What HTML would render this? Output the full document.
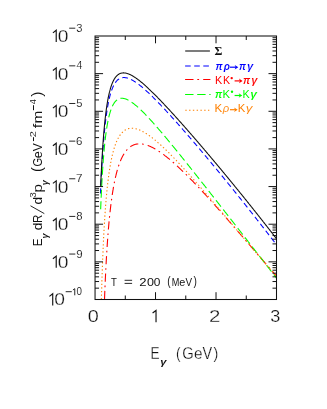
<!DOCTYPE html>
<html><head><meta charset="utf-8"><title>plot</title>
<style>
html,body{margin:0;padding:0;background:#fff;}
svg{display:block}
</style></head><body>
<svg width="327" height="409" viewBox="0 0 327 409" style="will-change:transform">
<rect width="327" height="409" fill="#fff"/>
<g fill="none" stroke-linecap="butt" stroke-linejoin="round" transform="scale(1.05,1)">
<path d="M95.66,193.59 L95.68,193.17 L95.70,192.75 L95.71,192.33 L95.73,191.91 L95.75,191.49 L95.77,191.07 L95.79,190.66 L95.81,190.24 L95.83,189.83 L95.85,189.41 L95.87,189.00 L95.89,188.59 L95.90,188.17 L95.92,187.76 L95.94,187.35 L95.96,186.95 L95.98,186.54 L96.00,186.13 L96.02,185.73 L96.04,185.32 L96.06,184.92 L96.08,184.52 L96.10,184.12 L96.11,183.72 L96.13,183.32 L96.15,182.92 L96.17,182.53 L96.19,182.13 L96.21,181.74 L96.23,181.35 L96.25,180.95 L96.27,180.56 L96.29,180.18 L96.30,179.79 L96.32,179.40 L96.34,179.02 L96.36,178.63 L96.38,178.25 L96.40,177.87 L96.42,177.49 L96.44,177.11 L96.46,176.73 L96.48,176.35 L96.50,175.98 L96.51,175.60 L96.53,175.23 L96.55,174.86 L96.57,174.49 L96.59,174.12 L96.61,173.75 L96.63,173.38 L96.65,173.02 L96.67,172.65 L96.69,172.29 L96.70,171.93 L96.72,171.57 L96.74,171.21 L96.76,170.85 L96.78,170.49 L96.80,170.14 L96.82,169.78 L96.84,169.43 L96.86,169.08 L96.88,168.73 L96.91,168.03 L96.95,167.34 L96.99,166.65 L97.03,165.97 L97.07,165.29 L97.10,164.62 L97.14,163.95 L97.18,163.29 L97.22,162.63 L97.26,161.98 L97.30,161.33 L97.33,160.69 L97.37,160.05 L97.41,159.42 L97.45,158.79 L97.49,158.17 L97.52,157.55 L97.56,156.94 L97.60,156.33 L97.64,155.72 L97.68,155.12 L97.71,154.53 L97.75,153.93 L97.79,153.35 L97.83,152.77 L97.87,152.19 L97.90,151.62 L97.94,151.05 L97.98,150.48 L98.02,149.92 L98.06,149.37 L98.10,148.82 L98.13,148.27 L98.17,147.73 L98.21,147.19 L98.25,146.66 L98.29,146.13 L98.32,145.60 L98.36,145.08 L98.40,144.56 L98.44,144.05 L98.48,143.54 L98.51,143.03 L98.55,142.53 L98.59,142.03 L98.63,141.54 L98.67,141.05 L98.70,140.56 L98.74,140.08 L98.78,139.60 L98.82,139.13 L98.86,138.65 L98.90,138.19 L98.93,137.72 L98.97,137.26 L99.01,136.81 L99.05,136.35 L99.09,135.90 L99.12,135.46 L99.16,135.01 L99.20,134.57 L99.24,134.14 L99.28,133.70 L99.31,133.27 L99.35,132.85 L99.39,132.43 L99.43,132.01 L99.47,131.59 L99.50,131.18 L99.54,130.77 L99.58,130.36 L99.62,129.96 L99.66,129.56 L99.70,129.16 L99.73,128.76 L99.77,128.37 L99.81,127.98 L99.85,127.60 L99.89,127.21 L99.92,126.83 L99.96,126.46 L100.00,126.08 L100.04,125.71 L100.08,125.34 L100.11,124.98 L100.15,124.62 L100.19,124.26 L100.23,123.90 L100.27,123.54 L100.30,123.19 L100.34,122.84 L100.40,122.32 L100.46,121.81 L100.51,121.30 L100.57,120.80 L100.63,120.31 L100.69,119.82 L100.74,119.33 L100.80,118.85 L100.86,118.38 L100.91,117.91 L100.97,117.44 L101.03,116.98 L101.09,116.53 L101.14,116.08 L101.20,115.64 L101.26,115.20 L101.31,114.77 L101.37,114.34 L101.43,113.91 L101.49,113.49 L101.54,113.08 L101.60,112.67 L101.66,112.26 L101.71,111.86 L101.77,111.46 L101.83,111.07 L101.89,110.68 L101.94,110.30 L102.00,109.92 L102.06,109.54 L102.11,109.17 L102.17,108.80 L102.23,108.44 L102.29,108.08 L102.34,107.72 L102.40,107.37 L102.46,107.02 L102.51,106.67 L102.59,106.22 L102.67,105.77 L102.74,105.33 L102.82,104.90 L102.90,104.47 L102.97,104.04 L103.05,103.63 L103.12,103.22 L103.20,102.81 L103.28,102.41 L103.35,102.02 L103.43,101.63 L103.50,101.25 L103.58,100.87 L103.66,100.50 L103.73,100.13 L103.81,99.77 L103.89,99.41 L103.96,99.06 L104.04,98.71 L104.11,98.37 L104.21,97.95 L104.30,97.54 L104.40,97.13 L104.50,96.73 L104.59,96.34 L104.69,95.95 L104.78,95.58 L104.88,95.20 L104.97,94.84 L105.07,94.48 L105.16,94.12 L105.26,93.78 L105.35,93.44 L105.47,93.03 L105.58,92.64 L105.70,92.26 L105.81,91.88 L105.92,91.51 L106.04,91.15 L106.15,90.79 L106.27,90.45 L106.38,90.11 L106.50,89.78 L106.63,89.40 L106.76,89.03 L106.90,88.67 L107.03,88.31 L107.16,87.97 L107.30,87.64 L107.43,87.31 L107.58,86.95 L107.73,86.59 L107.89,86.25 L108.04,85.92 L108.19,85.59 L108.34,85.28 L108.51,84.93 L108.69,84.60 L108.86,84.28 L109.03,83.97 L109.20,83.67 L109.39,83.35 L109.58,83.04 L109.77,82.74 L109.98,82.43 L110.19,82.12 L110.40,81.83 L110.61,81.56 L110.84,81.27 L111.07,81.00 L111.30,80.74 L111.54,80.47 L111.79,80.22 L112.04,79.98 L112.30,79.74 L112.57,79.51 L112.84,79.30 L113.12,79.09 L113.41,78.90 L113.71,78.71 L114.02,78.54 L114.32,78.38 L114.65,78.23 L114.97,78.10 L115.30,77.98 L115.62,77.88 L115.94,77.79 L116.29,77.71 L116.63,77.65 L116.97,77.61 L117.31,77.58 L117.66,77.56 L118.00,77.55 L118.34,77.56 L118.69,77.58 L119.03,77.61 L119.37,77.65 L119.71,77.70 L120.06,77.76 L120.40,77.84 L120.74,77.92 L121.07,78.01 L121.39,78.10 L121.71,78.20 L122.04,78.31 L122.36,78.43 L122.69,78.55 L123.01,78.68 L123.33,78.82 L123.66,78.97 L123.98,79.12 L124.29,79.26 L124.59,79.41 L124.90,79.57 L125.20,79.73 L125.50,79.90 L125.81,80.07 L126.11,80.24 L126.42,80.42 L126.72,80.61 L127.03,80.80 L127.33,80.99 L127.62,81.17 L127.90,81.36 L128.19,81.55 L128.48,81.74 L128.76,81.94 L129.05,82.14 L129.33,82.34 L129.62,82.54 L129.90,82.75 L130.19,82.96 L130.48,83.18 L130.76,83.39 L131.05,83.61 L131.33,83.83 L131.62,84.05 L131.89,84.27 L132.15,84.48 L132.42,84.69 L132.69,84.91 L132.95,85.13 L133.22,85.35 L133.49,85.57 L133.75,85.79 L134.02,86.02 L134.29,86.25 L134.55,86.48 L134.82,86.71 L135.09,86.94 L135.35,87.17 L135.62,87.41 L135.89,87.64 L136.15,87.88 L136.42,88.12 L136.69,88.36 L136.95,88.61 L137.22,88.85 L137.49,89.10 L137.75,89.34 L138.02,89.59 L138.29,89.84 L138.55,90.09 L138.82,90.34 L139.07,90.58 L139.31,90.81 L139.56,91.05 L139.81,91.29 L140.06,91.52 L140.30,91.76 L140.55,92.00 L140.80,92.25 L141.05,92.49 L141.30,92.73 L141.54,92.98 L141.79,93.22 L142.04,93.47 L142.29,93.71 L142.53,93.96 L142.78,94.21 L143.03,94.46 L143.28,94.71 L143.52,94.96 L143.77,95.21 L144.02,95.46 L144.27,95.72 L144.51,95.97 L144.76,96.22 L145.01,96.48 L145.26,96.73 L145.50,96.99 L145.75,97.25 L146.00,97.51 L146.25,97.76 L146.50,98.02 L146.74,98.28 L146.99,98.54 L147.24,98.80 L147.49,99.06 L147.73,99.33 L147.98,99.59 L148.23,99.85 L148.48,100.12 L148.72,100.38 L148.97,100.65 L149.22,100.91 L149.47,101.18 L149.71,101.44 L149.96,101.71 L150.21,101.98 L150.46,102.25 L150.70,102.51 L150.95,102.78 L151.20,103.05 L151.45,103.32 L151.70,103.59 L151.94,103.86 L152.19,104.14 L152.44,104.41 L152.69,104.68 L152.93,104.95 L153.18,105.23 L153.43,105.50 L153.68,105.77 L153.92,106.05 L154.17,106.32 L154.42,106.60 L154.67,106.87 L154.90,107.13 L155.12,107.38 L155.35,107.64 L155.58,107.90 L155.81,108.15 L156.04,108.41 L156.27,108.66 L156.50,108.92 L156.72,109.18 L156.95,109.44 L157.18,109.69 L157.41,109.95 L157.64,110.21 L157.87,110.47 L158.10,110.73 L158.32,110.99 L158.55,111.25 L158.78,111.51 L159.01,111.77 L159.24,112.03 L159.47,112.29 L159.70,112.55 L159.92,112.81 L160.15,113.08 L160.38,113.34 L160.61,113.60 L160.84,113.86 L161.07,114.13 L161.30,114.39 L161.52,114.65 L161.75,114.92 L161.98,115.18 L162.21,115.44 L162.44,115.71 L162.67,115.97 L162.90,116.24 L163.12,116.50 L163.35,116.77 L163.58,117.03 L163.81,117.30 L164.04,117.56 L164.27,117.83 L164.50,118.10 L164.72,118.36 L164.95,118.63 L165.18,118.90 L165.41,119.16 L165.64,119.43 L165.87,119.70 L166.10,119.97 L166.32,120.24 L166.55,120.50 L166.78,120.77 L167.01,121.04 L167.24,121.31 L167.47,121.58 L167.70,121.85 L167.92,122.12 L168.15,122.39 L168.38,122.66 L168.61,122.93 L168.84,123.20 L169.07,123.47 L169.30,123.74 L169.52,124.01 L169.75,124.28 L169.98,124.55 L170.21,124.82 L170.44,125.09 L170.67,125.37 L170.90,125.64 L171.12,125.91 L171.35,126.18 L171.58,126.46 L171.81,126.73 L172.04,127.00 L172.27,127.27 L172.50,127.55 L172.72,127.82 L172.95,128.09 L173.18,128.37 L173.41,128.64 L173.64,128.91 L173.87,129.19 L174.10,129.46 L174.32,129.74 L174.55,130.01 L174.78,130.29 L175.01,130.56 L175.24,130.84 L175.47,131.11 L175.70,131.39 L175.92,131.66 L176.15,131.94 L176.38,132.21 L176.61,132.49 L176.84,132.77 L177.07,133.04 L177.30,133.32 L177.52,133.59 L177.75,133.87 L177.98,134.15 L178.21,134.43 L178.44,134.70 L178.67,134.98 L178.90,135.26 L179.12,135.53 L179.35,135.81 L179.58,136.09 L179.81,136.37 L180.04,136.65 L180.27,136.92 L180.50,137.20 L180.72,137.48 L180.95,137.76 L181.18,138.04 L181.41,138.32 L181.64,138.60 L181.87,138.88 L182.10,139.15 L182.32,139.43 L182.55,139.71 L182.78,139.99 L183.01,140.27 L183.24,140.55 L183.47,140.83 L183.70,141.11 L183.92,141.39 L184.15,141.67 L184.38,141.95 L184.61,142.24 L184.84,142.52 L185.07,142.80 L185.30,143.08 L185.52,143.36 L185.75,143.64 L185.98,143.92 L186.21,144.20 L186.44,144.48 L186.67,144.77 L186.90,145.05 L187.12,145.33 L187.35,145.61 L187.58,145.89 L187.81,146.18 L188.04,146.46 L188.27,146.74 L188.50,147.03 L188.72,147.31 L188.95,147.59 L189.18,147.87 L189.41,148.16 L189.64,148.44 L189.87,148.72 L190.10,149.01 L190.32,149.29 L190.55,149.57 L190.78,149.86 L191.01,150.14 L191.24,150.43 L191.47,150.71 L191.70,150.99 L191.92,151.28 L192.15,151.56 L192.38,151.85 L192.61,152.13 L192.84,152.42 L193.07,152.70 L193.30,152.99 L193.52,153.27 L193.75,153.56 L193.98,153.84 L194.21,154.13 L194.44,154.41 L194.67,154.70 L194.90,154.99 L195.12,155.27 L195.35,155.56 L195.58,155.84 L195.81,156.13 L196.04,156.42 L196.27,156.70 L196.50,156.99 L196.72,157.28 L196.95,157.56 L197.18,157.85 L197.41,158.14 L197.64,158.42 L197.87,158.71 L198.10,159.00 L198.32,159.29 L198.55,159.57 L198.78,159.86 L199.01,160.15 L199.24,160.44 L199.47,160.72 L199.70,161.01 L199.92,161.30 L200.15,161.59 L200.38,161.88 L200.61,162.16 L200.84,162.45 L201.07,162.74 L201.30,163.03 L201.52,163.32 L201.75,163.61 L201.98,163.90 L202.21,164.19 L202.44,164.47 L202.67,164.76 L202.90,165.05 L203.12,165.34 L203.35,165.63 L203.58,165.92 L203.81,166.21 L204.04,166.50 L204.27,166.79 L204.50,167.08 L204.72,167.37 L204.95,167.66 L205.18,167.95 L205.41,168.24 L205.64,168.53 L205.87,168.82 L206.10,169.11 L206.32,169.40 L206.55,169.70 L206.78,169.99 L207.01,170.28 L207.24,170.57 L207.47,170.86 L207.70,171.15 L207.92,171.44 L208.15,171.73 L208.38,172.03 L208.61,172.32 L208.84,172.61 L209.07,172.90 L209.30,173.19 L209.52,173.48 L209.75,173.78 L209.98,174.07 L210.21,174.36 L210.44,174.65 L210.67,174.95 L210.90,175.24 L211.12,175.53 L211.35,175.82 L211.58,176.12 L211.81,176.41 L212.04,176.70 L212.27,177.00 L212.50,177.29 L212.72,177.58 L212.95,177.88 L213.18,178.17 L213.41,178.46 L213.64,178.76 L213.87,179.05 L214.10,179.35 L214.32,179.64 L214.55,179.93 L214.78,180.23 L215.01,180.52 L215.24,180.82 L215.47,181.11 L215.70,181.41 L215.92,181.70 L216.15,182.00 L216.38,182.29 L216.61,182.58 L216.84,182.88 L217.07,183.17 L217.30,183.47 L217.52,183.77 L217.75,184.06 L217.98,184.36 L218.21,184.65 L218.44,184.95 L218.67,185.24 L218.90,185.54 L219.12,185.83 L219.35,186.13 L219.58,186.43 L219.81,186.72 L220.04,187.02 L220.27,187.32 L220.50,187.61 L220.72,187.91 L220.95,188.21 L221.18,188.50 L221.41,188.80 L221.64,189.10 L221.85,189.37 L222.06,189.64 L222.27,189.91 L222.48,190.19 L222.69,190.46 L222.90,190.73 L223.10,191.00 L223.31,191.28 L223.52,191.55 L223.73,191.82 L223.94,192.09 L224.15,192.37 L224.36,192.64 L224.57,192.91 L224.78,193.19 L224.99,193.46 L225.20,193.73 L225.41,194.01 L225.62,194.28 L225.83,194.55 L226.04,194.83 L226.25,195.10 L226.46,195.38 L226.67,195.65 L226.88,195.92 L227.09,196.20 L227.30,196.47 L227.50,196.75 L227.71,197.02 L227.92,197.30 L228.13,197.57 L228.34,197.84 L228.55,198.12 L228.76,198.39 L228.97,198.67 L229.18,198.94 L229.39,199.22 L229.60,199.49 L229.81,199.77 L230.02,200.04 L230.23,200.32 L230.44,200.59 L230.65,200.87 L230.86,201.15 L231.07,201.42 L231.28,201.70 L231.49,201.97 L231.70,202.25 L231.90,202.52 L232.11,202.80 L232.32,203.08 L232.53,203.35 L232.74,203.63 L232.95,203.90 L233.16,204.18 L233.37,204.46 L233.58,204.73 L233.79,205.01 L234.00,205.29 L234.21,205.56 L234.42,205.84 L234.63,206.12 L234.84,206.39 L235.05,206.67 L235.26,206.95 L235.47,207.22 L235.68,207.50 L235.89,207.78 L236.10,208.06 L236.30,208.33 L236.51,208.61 L236.72,208.89 L236.93,209.17 L237.14,209.44 L237.35,209.72 L237.56,210.00 L237.77,210.28 L237.98,210.55 L238.19,210.83 L238.40,211.11 L238.61,211.39 L238.82,211.67 L239.03,211.95 L239.24,212.22 L239.45,212.50 L239.66,212.78 L239.87,213.06 L240.08,213.34 L240.29,213.62 L240.50,213.90 L240.70,214.17 L240.91,214.45 L241.12,214.73 L241.33,215.01 L241.54,215.29 L241.75,215.57 L241.96,215.85 L242.17,216.13 L242.38,216.41 L242.59,216.69 L242.80,216.97 L243.01,217.25 L243.22,217.53 L243.43,217.81 L243.64,218.09 L243.85,218.37 L244.06,218.65 L244.27,218.93 L244.48,219.21 L244.69,219.49 L244.90,219.77 L245.10,220.05 L245.31,220.33 L245.52,220.61 L245.73,220.89 L245.94,221.17 L246.15,221.45 L246.36,221.73 L246.57,222.02 L246.78,222.30 L246.99,222.58 L247.20,222.86 L247.41,223.14 L247.62,223.42 L247.83,223.70 L248.04,223.98 L248.25,224.27 L248.46,224.55 L248.67,224.83 L248.88,225.11 L249.09,225.39 L249.30,225.68 L249.50,225.96 L249.71,226.24 L249.92,226.52 L250.13,226.80 L250.34,227.09 L250.55,227.37 L250.76,227.65 L250.97,227.93 L251.18,228.22 L251.39,228.50 L251.60,228.78 L251.81,229.06 L252.02,229.35 L252.23,229.63 L252.44,229.91 L252.65,230.20 L252.86,230.48 L253.07,230.76 L253.28,231.05 L253.49,231.33 L253.70,231.61 L253.90,231.90 L254.11,232.18 L254.32,232.47 L254.53,232.75 L254.74,233.03 L254.95,233.32 L255.16,233.60 L255.37,233.89 L255.58,234.17 L255.79,234.45 L256.00,234.74 L256.21,235.02 L256.42,235.31 L256.63,235.59 L256.84,235.88 L257.05,236.16 L257.26,236.45 L257.47,236.73 L257.68,237.02 L257.89,237.30 L258.10,237.59 L258.30,237.87 L258.51,238.16 L258.72,238.44 L258.93,238.73 L259.14,239.01 L259.35,239.30 L259.56,239.58 L259.77,239.87 L259.98,240.16 L260.19,240.44 L260.40,240.73 L260.61,241.01 L260.82,241.30 L261.03,241.59 L261.24,241.87 L261.45,242.16 L261.66,242.45 L261.87,242.73 L262.08,243.02 L262.29,243.31 L262.50,243.59 L262.70,243.88 L262.91,244.17 L263.12,244.45 L263.33,244.74" stroke="#0000ff" stroke-width="1.05" stroke-dasharray="5.35 3.3"/>
<path d="M99.54,299.05 L99.56,298.51 L99.58,297.98 L99.60,297.46 L99.62,296.93 L99.64,296.41 L99.66,295.89 L99.68,295.38 L99.70,294.86 L99.71,294.35 L99.73,293.84 L99.75,293.33 L99.77,292.83 L99.79,292.33 L99.81,291.83 L99.83,291.33 L99.85,290.84 L99.87,290.34 L99.89,289.85 L99.90,289.37 L99.92,288.88 L99.94,288.40 L99.96,287.92 L99.98,287.44 L100.00,286.96 L100.02,286.49 L100.04,286.02 L100.06,285.55 L100.08,285.08 L100.10,284.61 L100.11,284.15 L100.13,283.69 L100.15,283.23 L100.17,282.77 L100.19,282.32 L100.21,281.87 L100.23,281.42 L100.25,280.97 L100.27,280.52 L100.29,280.08 L100.30,279.63 L100.32,279.19 L100.34,278.75 L100.36,278.32 L100.38,277.88 L100.40,277.45 L100.42,277.02 L100.44,276.59 L100.46,276.16 L100.48,275.74 L100.50,275.32 L100.51,274.89 L100.53,274.48 L100.55,274.06 L100.57,273.64 L100.59,273.23 L100.61,272.82 L100.63,272.41 L100.65,272.00 L100.67,271.59 L100.69,271.19 L100.70,270.78 L100.72,270.38 L100.74,269.98 L100.76,269.58 L100.78,269.19 L100.80,268.79 L100.82,268.40 L100.84,268.01 L100.86,267.62 L100.88,267.23 L100.90,266.85 L100.91,266.46 L100.93,266.08 L100.95,265.70 L100.97,265.32 L100.99,264.94 L101.01,264.56 L101.03,264.19 L101.05,263.81 L101.07,263.44 L101.09,263.07 L101.10,262.70 L101.12,262.34 L101.14,261.97 L101.16,261.61 L101.18,261.24 L101.20,260.88 L101.22,260.52 L101.24,260.16 L101.26,259.81 L101.28,259.45 L101.30,259.10 L101.31,258.75 L101.33,258.40 L101.35,258.05 L101.39,257.35 L101.43,256.66 L101.47,255.98 L101.50,255.30 L101.54,254.63 L101.58,253.96 L101.62,253.30 L101.66,252.64 L101.70,251.99 L101.73,251.34 L101.77,250.70 L101.81,250.07 L101.85,249.43 L101.89,248.81 L101.92,248.19 L101.96,247.57 L102.00,246.96 L102.04,246.35 L102.08,245.75 L102.11,245.15 L102.15,244.55 L102.19,243.96 L102.23,243.38 L102.27,242.80 L102.30,242.22 L102.34,241.65 L102.38,241.08 L102.42,240.52 L102.46,239.96 L102.50,239.40 L102.53,238.85 L102.57,238.31 L102.61,237.76 L102.65,237.22 L102.69,236.69 L102.72,236.16 L102.76,235.63 L102.80,235.11 L102.84,234.58 L102.88,234.07 L102.91,233.56 L102.95,233.05 L102.99,232.54 L103.03,232.04 L103.07,231.54 L103.10,231.05 L103.14,230.55 L103.18,230.07 L103.22,229.58 L103.26,229.10 L103.30,228.62 L103.33,228.15 L103.37,227.67 L103.41,227.21 L103.45,226.74 L103.49,226.28 L103.52,225.82 L103.56,225.36 L103.60,224.91 L103.64,224.46 L103.68,224.02 L103.71,223.57 L103.75,223.13 L103.79,222.69 L103.83,222.26 L103.87,221.83 L103.90,221.40 L103.94,220.97 L103.98,220.55 L104.02,220.13 L104.06,219.71 L104.10,219.29 L104.13,218.88 L104.17,218.47 L104.21,218.06 L104.25,217.66 L104.29,217.26 L104.32,216.86 L104.36,216.46 L104.40,216.07 L104.44,215.67 L104.48,215.28 L104.51,214.90 L104.55,214.51 L104.59,214.13 L104.63,213.75 L104.67,213.37 L104.70,213.00 L104.74,212.63 L104.78,212.26 L104.82,211.89 L104.86,211.52 L104.90,211.16 L104.93,210.80 L104.97,210.44 L105.01,210.08 L105.05,209.73 L105.09,209.38 L105.12,209.03 L105.16,208.68 L105.22,208.16 L105.28,207.65 L105.33,207.14 L105.39,206.63 L105.45,206.13 L105.50,205.64 L105.56,205.15 L105.62,204.66 L105.68,204.18 L105.73,203.70 L105.79,203.23 L105.85,202.76 L105.90,202.29 L105.96,201.83 L106.02,201.37 L106.08,200.92 L106.13,200.47 L106.19,200.02 L106.25,199.58 L106.30,199.14 L106.36,198.71 L106.42,198.28 L106.48,197.85 L106.53,197.43 L106.59,197.01 L106.65,196.59 L106.70,196.18 L106.76,195.77 L106.82,195.36 L106.88,194.96 L106.93,194.56 L106.99,194.16 L107.05,193.77 L107.10,193.38 L107.16,193.00 L107.22,192.61 L107.28,192.23 L107.33,191.86 L107.39,191.48 L107.45,191.11 L107.50,190.74 L107.56,190.38 L107.62,190.02 L107.68,189.66 L107.73,189.30 L107.79,188.95 L107.85,188.60 L107.90,188.25 L107.96,187.91 L108.04,187.45 L108.11,187.00 L108.19,186.55 L108.27,186.11 L108.34,185.67 L108.42,185.24 L108.50,184.81 L108.57,184.39 L108.65,183.97 L108.72,183.56 L108.80,183.15 L108.88,182.74 L108.95,182.34 L109.03,181.94 L109.10,181.54 L109.18,181.15 L109.26,180.77 L109.33,180.39 L109.41,180.01 L109.49,179.63 L109.56,179.26 L109.64,178.89 L109.71,178.53 L109.79,178.17 L109.87,177.81 L109.94,177.46 L110.02,177.11 L110.10,176.77 L110.17,176.42 L110.27,176.00 L110.36,175.58 L110.46,175.17 L110.55,174.76 L110.65,174.36 L110.74,173.96 L110.84,173.56 L110.93,173.17 L111.03,172.79 L111.12,172.41 L111.22,172.04 L111.31,171.66 L111.41,171.30 L111.50,170.94 L111.60,170.58 L111.70,170.22 L111.79,169.88 L111.89,169.53 L111.98,169.19 L112.08,168.85 L112.19,168.45 L112.30,168.06 L112.42,167.67 L112.53,167.29 L112.65,166.91 L112.76,166.54 L112.88,166.17 L112.99,165.81 L113.10,165.45 L113.22,165.10 L113.33,164.75 L113.45,164.41 L113.56,164.07 L113.68,163.74 L113.81,163.35 L113.94,162.98 L114.08,162.61 L114.21,162.24 L114.34,161.88 L114.48,161.53 L114.61,161.18 L114.74,160.84 L114.88,160.50 L115.01,160.17 L115.14,159.85 L115.28,159.53 L115.43,159.17 L115.58,158.81 L115.73,158.46 L115.89,158.12 L116.04,157.79 L116.19,157.46 L116.34,157.14 L116.50,156.82 L116.67,156.47 L116.84,156.13 L117.01,155.79 L117.18,155.46 L117.35,155.14 L117.52,154.83 L117.70,154.52 L117.87,154.22 L118.06,153.89 L118.25,153.57 L118.44,153.25 L118.63,152.95 L118.82,152.65 L119.01,152.36 L119.22,152.05 L119.43,151.74 L119.64,151.44 L119.85,151.16 L120.06,150.87 L120.27,150.60 L120.50,150.31 L120.72,150.03 L120.95,149.75 L121.18,149.49 L121.41,149.23 L121.66,148.96 L121.90,148.70 L122.15,148.45 L122.40,148.21 L122.65,147.97 L122.91,147.73 L123.18,147.49 L123.45,147.27 L123.71,147.05 L124.00,146.83 L124.29,146.62 L124.57,146.41 L124.86,146.22 L125.14,146.04 L125.45,145.85 L125.75,145.67 L126.06,145.50 L126.36,145.35 L126.67,145.20 L126.99,145.05 L127.31,144.91 L127.64,144.78 L127.96,144.66 L128.29,144.55 L128.61,144.44 L128.93,144.35 L129.26,144.27 L129.60,144.18 L129.94,144.11 L130.29,144.05 L130.63,143.99 L130.97,143.95 L131.31,143.91 L131.66,143.88 L132.00,143.86 L132.34,143.84 L132.69,143.84 L133.03,143.84 L133.37,143.84 L133.71,143.86 L134.06,143.88 L134.40,143.91 L134.74,143.94 L135.09,143.98 L135.43,144.03 L135.77,144.08 L136.11,144.14 L136.46,144.21 L136.80,144.28 L137.14,144.35 L137.49,144.43 L137.83,144.52 L138.15,144.61 L138.48,144.70 L138.80,144.80 L139.12,144.90 L139.45,145.00 L139.77,145.11 L140.10,145.23 L140.42,145.34 L140.74,145.47 L141.07,145.59 L141.39,145.72 L141.71,145.85 L142.04,145.99 L142.36,146.13 L142.69,146.28 L143.01,146.43 L143.31,146.57 L143.62,146.72 L143.92,146.86 L144.23,147.02 L144.53,147.17 L144.84,147.33 L145.14,147.49 L145.45,147.65 L145.75,147.82 L146.06,147.99 L146.36,148.16 L146.67,148.33 L146.97,148.51 L147.28,148.69 L147.58,148.87 L147.89,149.06 L148.19,149.24 L148.50,149.43 L148.80,149.62 L149.09,149.81 L149.37,149.99 L149.66,150.18 L149.94,150.36 L150.23,150.55 L150.51,150.74 L150.80,150.94 L151.09,151.13 L151.37,151.33 L151.66,151.53 L151.94,151.73 L152.23,151.93 L152.51,152.14 L152.80,152.34 L153.09,152.55 L153.37,152.76 L153.66,152.97 L153.94,153.18 L154.23,153.40 L154.51,153.61 L154.80,153.83 L155.09,154.05 L155.37,154.27 L155.66,154.49 L155.94,154.71 L156.23,154.94 L156.50,155.15 L156.76,155.36 L157.03,155.58 L157.30,155.79 L157.56,156.01 L157.83,156.22 L158.10,156.44 L158.36,156.66 L158.63,156.88 L158.90,157.11 L159.16,157.33 L159.43,157.55 L159.70,157.78 L159.96,158.01 L160.23,158.23 L160.50,158.46 L160.76,158.69 L161.03,158.92 L161.30,159.15 L161.56,159.39 L161.83,159.62 L162.10,159.85 L162.36,160.09 L162.63,160.33 L162.90,160.56 L163.16,160.80 L163.43,161.04 L163.70,161.28 L163.96,161.52 L164.23,161.77 L164.50,162.01 L164.76,162.25 L165.03,162.50 L165.30,162.75 L165.56,162.99 L165.83,163.24 L166.10,163.49 L166.36,163.74 L166.63,163.99 L166.90,164.24 L167.16,164.49 L167.41,164.73 L167.66,164.96 L167.90,165.20 L168.15,165.43 L168.40,165.67 L168.65,165.91 L168.90,166.15 L169.14,166.39 L169.39,166.63 L169.64,166.87 L169.89,167.11 L170.13,167.35 L170.38,167.59 L170.63,167.84 L170.88,168.08 L171.12,168.32 L171.37,168.57 L171.62,168.81 L171.87,169.06 L172.11,169.31 L172.36,169.55 L172.61,169.80 L172.86,170.05 L173.10,170.30 L173.35,170.55 L173.60,170.80 L173.85,171.05 L174.10,171.30 L174.34,171.55 L174.59,171.80 L174.84,172.05 L175.09,172.31 L175.33,172.56 L175.58,172.82 L175.83,173.07 L176.08,173.33 L176.32,173.58 L176.57,173.84 L176.82,174.09 L177.07,174.35 L177.31,174.61 L177.56,174.87 L177.81,175.12 L178.06,175.38 L178.30,175.64 L178.55,175.90 L178.80,176.16 L179.05,176.42 L179.30,176.69 L179.54,176.95 L179.79,177.21 L180.04,177.47 L180.29,177.73 L180.53,178.00 L180.78,178.26 L181.03,178.53 L181.28,178.79 L181.52,179.06 L181.77,179.32 L182.02,179.59 L182.27,179.85 L182.51,180.12 L182.76,180.39 L183.01,180.65 L183.26,180.92 L183.50,181.19 L183.75,181.46 L184.00,181.73 L184.25,182.00 L184.50,182.27 L184.74,182.54 L184.99,182.81 L185.24,183.08 L185.49,183.35 L185.73,183.62 L185.98,183.89 L186.23,184.16 L186.48,184.43 L186.72,184.71 L186.97,184.98 L187.22,185.25 L187.47,185.53 L187.71,185.80 L187.96,186.08 L188.21,186.35 L188.46,186.63 L188.70,186.90 L188.95,187.18 L189.20,187.45 L189.43,187.71 L189.66,187.96 L189.89,188.22 L190.11,188.47 L190.34,188.73 L190.57,188.99 L190.80,189.24 L191.03,189.50 L191.26,189.76 L191.49,190.01 L191.71,190.27 L191.94,190.53 L192.17,190.79 L192.40,191.05 L192.63,191.30 L192.86,191.56 L193.09,191.82 L193.31,192.08 L193.54,192.34 L193.77,192.60 L194.00,192.86 L194.23,193.12 L194.46,193.38 L194.69,193.64 L194.91,193.90 L195.14,194.16 L195.37,194.42 L195.60,194.68 L195.83,194.94 L196.06,195.21 L196.29,195.47 L196.51,195.73 L196.74,195.99 L196.97,196.25 L197.20,196.52 L197.43,196.78 L197.66,197.04 L197.89,197.31 L198.11,197.57 L198.34,197.83 L198.57,198.10 L198.80,198.36 L199.03,198.62 L199.26,198.89 L199.49,199.15 L199.71,199.42 L199.94,199.68 L200.17,199.95 L200.40,200.21 L200.63,200.48 L200.86,200.74 L201.09,201.01 L201.31,201.27 L201.54,201.54 L201.77,201.81 L202.00,202.07 L202.23,202.34 L202.46,202.61 L202.69,202.87 L202.91,203.14 L203.14,203.41 L203.37,203.67 L203.60,203.94 L203.83,204.21 L204.06,204.48 L204.29,204.74 L204.51,205.01 L204.74,205.28 L204.97,205.55 L205.20,205.82 L205.43,206.09 L205.66,206.35 L205.89,206.62 L206.11,206.89 L206.34,207.16 L206.57,207.43 L206.80,207.70 L207.03,207.97 L207.26,208.24 L207.49,208.51 L207.71,208.78 L207.94,209.05 L208.17,209.32 L208.40,209.59 L208.63,209.86 L208.86,210.13 L209.09,210.40 L209.31,210.67 L209.54,210.94 L209.77,211.21 L210.00,211.48 L210.23,211.76 L210.46,212.03 L210.69,212.30 L210.91,212.57 L211.14,212.84 L211.37,213.11 L211.60,213.38 L211.83,213.66 L212.06,213.93 L212.29,214.20 L212.51,214.47 L212.74,214.75 L212.97,215.02 L213.20,215.29 L213.43,215.56 L213.66,215.84 L213.89,216.11 L214.11,216.38 L214.34,216.66 L214.57,216.93 L214.80,217.20 L215.03,217.48 L215.26,217.75 L215.49,218.02 L215.71,218.30 L215.94,218.57 L216.17,218.84 L216.40,219.12 L216.63,219.39 L216.86,219.67 L217.09,219.94 L217.31,220.21 L217.54,220.49 L217.77,220.76 L218.00,221.04 L218.23,221.31 L218.46,221.59 L218.69,221.86 L218.91,222.14 L219.14,222.41 L219.37,222.69 L219.60,222.96 L219.83,223.24 L220.06,223.51 L220.29,223.79 L220.51,224.06 L220.74,224.34 L220.97,224.61 L221.20,224.89 L221.43,225.16 L221.66,225.44 L221.89,225.72 L222.11,225.99 L222.34,226.27 L222.57,226.54 L222.80,226.82 L223.03,227.09 L223.26,227.37 L223.49,227.65 L223.71,227.92 L223.94,228.20 L224.17,228.48 L224.40,228.75 L224.63,229.03 L224.86,229.31 L225.09,229.58 L225.31,229.86 L225.54,230.14 L225.77,230.41 L226.00,230.69 L226.23,230.97 L226.46,231.24 L226.69,231.52 L226.91,231.80 L227.14,232.07 L227.37,232.35 L227.60,232.63 L227.83,232.91 L228.06,233.18 L228.29,233.46 L228.51,233.74 L228.74,234.01 L228.97,234.29 L229.20,234.57 L229.43,234.85 L229.66,235.12 L229.89,235.40 L230.11,235.68 L230.34,235.96 L230.57,236.23 L230.80,236.51 L231.03,236.79 L231.26,237.07 L231.49,237.35 L231.71,237.62 L231.94,237.90 L232.17,238.18 L232.40,238.46 L232.63,238.74 L232.86,239.01 L233.09,239.29 L233.31,239.57 L233.54,239.85 L233.77,240.13 L234.00,240.40 L234.23,240.68 L234.46,240.96 L234.69,241.24 L234.91,241.52 L235.14,241.80 L235.37,242.07 L235.60,242.35 L235.83,242.63 L236.06,242.91 L236.29,243.19 L236.51,243.47 L236.74,243.74 L236.97,244.02 L237.20,244.30 L237.43,244.58 L237.66,244.86 L237.89,245.14 L238.11,245.42 L238.34,245.69 L238.57,245.97 L238.80,246.25 L239.03,246.53 L239.26,246.81 L239.49,247.09 L239.71,247.37 L239.94,247.65 L240.17,247.92 L240.40,248.20 L240.63,248.48 L240.86,248.76 L241.09,249.04 L241.31,249.32 L241.54,249.60 L241.77,249.88 L242.00,250.15 L242.23,250.43 L242.46,250.71 L242.69,250.99 L242.91,251.27 L243.14,251.55 L243.37,251.83 L243.60,252.11 L243.83,252.39 L244.06,252.66 L244.29,252.94 L244.51,253.22 L244.74,253.50 L244.97,253.78 L245.20,254.06 L245.43,254.34 L245.66,254.62 L245.89,254.90 L246.11,255.17 L246.34,255.45 L246.57,255.73 L246.80,256.01 L247.03,256.29 L247.26,256.57 L247.49,256.85 L247.71,257.13 L247.94,257.41 L248.17,257.69 L248.40,257.96 L248.63,258.24 L248.86,258.52 L249.09,258.80 L249.31,259.08 L249.54,259.36 L249.77,259.64 L250.00,259.92 L250.23,260.20 L250.46,260.47 L250.69,260.75 L250.91,261.03 L251.14,261.31 L251.37,261.59 L251.60,261.87 L251.83,262.15 L252.06,262.43 L252.29,262.70 L252.51,262.98 L252.74,263.26 L252.97,263.54 L253.20,263.82 L253.43,264.10 L253.66,264.38 L253.89,264.66 L254.11,264.93 L254.34,265.21 L254.57,265.49 L254.80,265.77 L255.03,266.05 L255.26,266.33 L255.49,266.61 L255.71,266.88 L255.94,267.16 L256.17,267.44 L256.40,267.72 L256.63,268.00 L256.86,268.28 L257.09,268.56 L257.31,268.83 L257.54,269.11 L257.77,269.39 L258.00,269.67 L258.23,269.95 L258.46,270.23 L258.69,270.50 L258.91,270.78 L259.14,271.06 L259.37,271.34 L259.60,271.62 L259.83,271.89 L260.06,272.17 L260.29,272.45 L260.51,272.73 L260.74,273.01 L260.97,273.29 L261.20,273.56 L261.43,273.84 L261.66,274.12 L261.89,274.40 L262.11,274.68 L262.34,274.95 L262.57,275.23 L262.80,275.51 L263.03,275.79 L263.26,276.06 L263.33,276.16" stroke="#ff0000" stroke-width="1.05" stroke-dasharray="8.2 3.7 1.6 3.9"/>
<path d="M95.87,209.31 L95.89,208.80 L95.90,208.29 L95.92,207.78 L95.94,207.28 L95.96,206.78 L95.98,206.28 L96.00,205.79 L96.02,205.29 L96.04,204.80 L96.06,204.32 L96.08,203.83 L96.10,203.35 L96.11,202.87 L96.13,202.39 L96.15,201.92 L96.17,201.44 L96.19,200.97 L96.21,200.50 L96.23,200.04 L96.25,199.58 L96.27,199.12 L96.29,198.66 L96.30,198.20 L96.32,197.75 L96.34,197.30 L96.36,196.85 L96.38,196.40 L96.40,195.96 L96.42,195.52 L96.44,195.08 L96.46,194.64 L96.48,194.20 L96.50,193.77 L96.51,193.34 L96.53,192.91 L96.55,192.49 L96.57,192.06 L96.59,191.64 L96.61,191.22 L96.63,190.80 L96.65,190.39 L96.67,189.97 L96.69,189.56 L96.70,189.15 L96.72,188.75 L96.74,188.34 L96.76,187.94 L96.78,187.54 L96.80,187.14 L96.82,186.74 L96.84,186.35 L96.86,185.95 L96.88,185.56 L96.90,185.17 L96.91,184.79 L96.93,184.40 L96.95,184.02 L96.97,183.64 L96.99,183.26 L97.01,182.88 L97.03,182.50 L97.05,182.13 L97.07,181.76 L97.09,181.39 L97.10,181.02 L97.12,180.65 L97.14,180.29 L97.16,179.93 L97.18,179.57 L97.20,179.21 L97.22,178.85 L97.24,178.50 L97.26,178.14 L97.28,177.79 L97.30,177.44 L97.33,176.74 L97.37,176.06 L97.41,175.37 L97.45,174.70 L97.49,174.03 L97.52,173.37 L97.56,172.71 L97.60,172.06 L97.64,171.42 L97.68,170.79 L97.71,170.15 L97.75,169.53 L97.79,168.91 L97.83,168.30 L97.87,167.69 L97.90,167.09 L97.94,166.50 L97.98,165.91 L98.02,165.32 L98.06,164.74 L98.10,164.17 L98.13,163.60 L98.17,163.04 L98.21,162.48 L98.25,161.93 L98.29,161.39 L98.32,160.84 L98.36,160.31 L98.40,159.78 L98.44,159.25 L98.48,158.73 L98.51,158.21 L98.55,157.70 L98.59,157.19 L98.63,156.69 L98.67,156.19 L98.70,155.70 L98.74,155.21 L98.78,154.72 L98.82,154.24 L98.86,153.76 L98.90,153.29 L98.93,152.82 L98.97,152.36 L99.01,151.90 L99.05,151.45 L99.09,151.00 L99.12,150.55 L99.16,150.10 L99.20,149.67 L99.24,149.23 L99.28,148.80 L99.31,148.37 L99.35,147.95 L99.39,147.53 L99.43,147.11 L99.47,146.70 L99.50,146.29 L99.54,145.88 L99.58,145.48 L99.62,145.08 L99.66,144.69 L99.70,144.29 L99.73,143.91 L99.77,143.52 L99.81,143.14 L99.85,142.76 L99.89,142.38 L99.92,142.01 L99.96,141.64 L100.00,141.28 L100.04,140.92 L100.08,140.56 L100.11,140.20 L100.15,139.85 L100.19,139.49 L100.25,138.97 L100.30,138.46 L100.36,137.95 L100.42,137.45 L100.48,136.96 L100.53,136.47 L100.59,135.99 L100.65,135.51 L100.70,135.04 L100.76,134.58 L100.82,134.12 L100.88,133.66 L100.93,133.22 L100.99,132.77 L101.05,132.34 L101.10,131.90 L101.16,131.48 L101.22,131.06 L101.28,130.64 L101.33,130.23 L101.39,129.82 L101.45,129.42 L101.50,129.03 L101.56,128.63 L101.62,128.25 L101.68,127.87 L101.73,127.49 L101.79,127.11 L101.85,126.75 L101.90,126.38 L101.96,126.02 L102.02,125.67 L102.08,125.31 L102.13,124.97 L102.21,124.51 L102.29,124.06 L102.36,123.62 L102.44,123.18 L102.51,122.75 L102.59,122.33 L102.67,121.91 L102.74,121.50 L102.82,121.10 L102.90,120.70 L102.97,120.31 L103.05,119.93 L103.12,119.55 L103.20,119.18 L103.28,118.81 L103.35,118.45 L103.43,118.09 L103.50,117.74 L103.58,117.40 L103.68,116.97 L103.77,116.56 L103.87,116.15 L103.96,115.75 L104.06,115.35 L104.15,114.97 L104.25,114.59 L104.34,114.22 L104.44,113.85 L104.53,113.50 L104.63,113.15 L104.72,112.80 L104.82,112.46 L104.93,112.07 L105.05,111.68 L105.16,111.30 L105.28,110.93 L105.39,110.57 L105.50,110.22 L105.62,109.87 L105.73,109.53 L105.85,109.20 L105.98,108.83 L106.11,108.46 L106.25,108.11 L106.38,107.76 L106.51,107.42 L106.65,107.10 L106.80,106.73 L106.95,106.38 L107.10,106.04 L107.26,105.71 L107.41,105.39 L107.58,105.04 L107.75,104.70 L107.92,104.38 L108.10,104.07 L108.27,103.76 L108.46,103.44 L108.65,103.13 L108.84,102.84 L109.05,102.53 L109.26,102.23 L109.47,101.95 L109.70,101.66 L109.92,101.38 L110.15,101.12 L110.40,100.85 L110.65,100.60 L110.90,100.37 L111.16,100.13 L111.43,99.91 L111.71,99.69 L112.00,99.50 L112.29,99.32 L112.59,99.14 L112.90,98.98 L113.22,98.84 L113.54,98.71 L113.87,98.60 L114.19,98.51 L114.53,98.43 L114.88,98.36 L115.22,98.32 L115.56,98.29 L115.90,98.28 L116.25,98.28 L116.59,98.29 L116.93,98.32 L117.28,98.36 L117.62,98.42 L117.96,98.49 L118.30,98.57 L118.63,98.65 L118.95,98.75 L119.28,98.85 L119.60,98.96 L119.92,99.08 L120.25,99.21 L120.57,99.35 L120.90,99.50 L121.20,99.64 L121.50,99.79 L121.81,99.95 L122.11,100.11 L122.42,100.28 L122.72,100.46 L123.03,100.64 L123.33,100.82 L123.64,101.02 L123.92,101.20 L124.21,101.39 L124.50,101.58 L124.78,101.78 L125.07,101.98 L125.35,102.18 L125.64,102.39 L125.92,102.60 L126.21,102.82 L126.50,103.03 L126.78,103.26 L127.05,103.47 L127.31,103.68 L127.58,103.90 L127.85,104.12 L128.11,104.34 L128.38,104.56 L128.65,104.79 L128.91,105.02 L129.18,105.25 L129.45,105.48 L129.71,105.72 L129.98,105.95 L130.25,106.19 L130.51,106.44 L130.78,106.68 L131.05,106.93 L131.31,107.18 L131.58,107.43 L131.85,107.68 L132.10,107.91 L132.34,108.15 L132.59,108.39 L132.84,108.63 L133.09,108.87 L133.33,109.12 L133.58,109.36 L133.83,109.61 L134.08,109.86 L134.32,110.10 L134.57,110.36 L134.82,110.61 L135.07,110.86 L135.31,111.11 L135.56,111.37 L135.81,111.63 L136.06,111.88 L136.30,112.14 L136.55,112.40 L136.80,112.66 L137.05,112.93 L137.30,113.19 L137.54,113.45 L137.79,113.72 L138.04,113.99 L138.29,114.25 L138.53,114.52 L138.78,114.79 L139.03,115.06 L139.28,115.33 L139.52,115.60 L139.77,115.88 L140.02,116.15 L140.27,116.43 L140.51,116.70 L140.74,116.96 L140.97,117.21 L141.20,117.47 L141.43,117.73 L141.66,117.98 L141.89,118.24 L142.11,118.50 L142.34,118.76 L142.57,119.02 L142.80,119.28 L143.03,119.54 L143.26,119.81 L143.49,120.07 L143.71,120.33 L143.94,120.60 L144.17,120.86 L144.40,121.13 L144.63,121.39 L144.86,121.66 L145.09,121.93 L145.31,122.19 L145.54,122.46 L145.77,122.73 L146.00,123.00 L146.23,123.27 L146.46,123.54 L146.69,123.81 L146.91,124.08 L147.14,124.35 L147.37,124.62 L147.60,124.89 L147.83,125.17 L148.06,125.44 L148.29,125.71 L148.51,125.99 L148.74,126.26 L148.97,126.53 L149.20,126.81 L149.43,127.08 L149.66,127.36 L149.89,127.64 L150.11,127.91 L150.34,128.19 L150.57,128.47 L150.80,128.75 L151.03,129.02 L151.26,129.30 L151.49,129.58 L151.71,129.86 L151.94,130.14 L152.17,130.42 L152.40,130.70 L152.63,130.98 L152.86,131.26 L153.09,131.54 L153.31,131.82 L153.54,132.10 L153.77,132.39 L154.00,132.67 L154.23,132.95 L154.46,133.23 L154.69,133.52 L154.91,133.80 L155.14,134.09 L155.37,134.37 L155.60,134.65 L155.83,134.94 L156.06,135.22 L156.29,135.51 L156.51,135.79 L156.74,136.08 L156.97,136.37 L157.20,136.65 L157.43,136.94 L157.66,137.22 L157.89,137.51 L158.11,137.80 L158.34,138.09 L158.57,138.37 L158.80,138.66 L159.03,138.95 L159.26,139.24 L159.49,139.53 L159.71,139.82 L159.94,140.10 L160.17,140.39 L160.40,140.68 L160.63,140.97 L160.86,141.26 L161.09,141.55 L161.31,141.84 L161.54,142.13 L161.77,142.42 L162.00,142.71 L162.23,143.01 L162.46,143.30 L162.69,143.59 L162.91,143.88 L163.14,144.17 L163.37,144.46 L163.60,144.76 L163.83,145.05 L164.06,145.34 L164.29,145.63 L164.51,145.93 L164.74,146.22 L164.97,146.51 L165.20,146.81 L165.43,147.10 L165.66,147.39 L165.89,147.69 L166.11,147.98 L166.34,148.27 L166.57,148.57 L166.80,148.86 L167.03,149.16 L167.26,149.45 L167.49,149.75 L167.71,150.04 L167.94,150.34 L168.17,150.63 L168.40,150.93 L168.63,151.22 L168.86,151.52 L169.09,151.81 L169.31,152.11 L169.54,152.41 L169.77,152.70 L170.00,153.00 L170.23,153.30 L170.46,153.59 L170.69,153.89 L170.91,154.19 L171.14,154.48 L171.35,154.75 L171.56,155.03 L171.77,155.30 L171.98,155.57 L172.19,155.84 L172.40,156.12 L172.61,156.39 L172.82,156.66 L173.03,156.94 L173.24,157.21 L173.45,157.48 L173.66,157.76 L173.87,158.03 L174.08,158.30 L174.29,158.58 L174.50,158.85 L174.70,159.12 L174.91,159.40 L175.12,159.67 L175.33,159.95 L175.54,160.22 L175.75,160.49 L175.96,160.77 L176.17,161.04 L176.38,161.32 L176.59,161.59 L176.80,161.87 L177.01,162.14 L177.22,162.42 L177.43,162.69 L177.64,162.97 L177.85,163.24 L178.06,163.52 L178.27,163.79 L178.48,164.07 L178.69,164.34 L178.90,164.62 L179.10,164.89 L179.31,165.17 L179.52,165.44 L179.73,165.72 L179.94,165.99 L180.15,166.27 L180.36,166.55 L180.57,166.82 L180.78,167.10 L180.99,167.37 L181.20,167.65 L181.41,167.93 L181.62,168.20 L181.83,168.48 L182.04,168.75 L182.25,169.03 L182.46,169.31 L182.67,169.58 L182.88,169.86 L183.09,170.14 L183.30,170.41 L183.50,170.69 L183.71,170.97 L183.92,171.24 L184.13,171.52 L184.34,171.80 L184.55,172.07 L184.76,172.35 L184.97,172.63 L185.18,172.91 L185.39,173.18 L185.60,173.46 L185.81,173.74 L186.02,174.02 L186.23,174.29 L186.44,174.57 L186.65,174.85 L186.86,175.13 L187.07,175.40 L187.28,175.68 L187.49,175.96 L187.70,176.24 L187.90,176.51 L188.11,176.79 L188.32,177.07 L188.53,177.35 L188.74,177.63 L188.95,177.90 L189.16,178.18 L189.37,178.46 L189.58,178.74 L189.79,179.02 L190.00,179.29 L190.21,179.57 L190.42,179.85 L190.63,180.13 L190.84,180.41 L191.05,180.69 L191.26,180.97 L191.47,181.24 L191.68,181.52 L191.89,181.80 L192.10,182.08 L192.30,182.36 L192.51,182.64 L192.72,182.92 L192.93,183.20 L193.14,183.47 L193.35,183.75 L193.56,184.03 L193.77,184.31 L193.98,184.59 L194.19,184.87 L194.40,185.15 L194.61,185.43 L194.82,185.71 L195.03,185.99 L195.24,186.27 L195.45,186.54 L195.66,186.82 L195.87,187.10 L196.08,187.38 L196.29,187.66 L196.50,187.94 L196.70,188.22 L196.91,188.50 L197.12,188.78 L197.33,189.06 L197.54,189.34 L197.75,189.62 L197.96,189.90 L198.17,190.18 L198.38,190.46 L198.59,190.74 L198.80,191.02 L199.01,191.30 L199.22,191.58 L199.43,191.86 L199.64,192.14 L199.85,192.42 L200.06,192.70 L200.27,192.98 L200.48,193.26 L200.69,193.54 L200.90,193.82 L201.10,194.10 L201.31,194.38 L201.52,194.66 L201.73,194.94 L201.94,195.22 L202.15,195.50 L202.36,195.78 L202.57,196.06 L202.78,196.34 L202.99,196.62 L203.20,196.90 L203.41,197.18 L203.62,197.46 L203.83,197.74 L204.04,198.02 L204.25,198.30 L204.46,198.59 L204.67,198.87 L204.88,199.15 L205.09,199.43 L205.30,199.71 L205.50,199.99 L205.71,200.27 L205.92,200.55 L206.13,200.83 L206.34,201.11 L206.55,201.39 L206.76,201.67 L206.97,201.95 L207.18,202.24 L207.39,202.52 L207.60,202.80 L207.81,203.08 L208.02,203.36 L208.23,203.64 L208.44,203.92 L208.65,204.20 L208.86,204.48 L209.07,204.77 L209.28,205.05 L209.49,205.33 L209.70,205.61 L209.90,205.89 L210.11,206.17 L210.32,206.45 L210.53,206.73 L210.74,207.02 L210.95,207.30 L211.16,207.58 L211.37,207.86 L211.58,208.14 L211.79,208.42 L212.00,208.70 L212.21,208.99 L212.42,209.27 L212.63,209.55 L212.84,209.83 L213.05,210.11 L213.26,210.39 L213.47,210.68 L213.68,210.96 L213.89,211.24 L214.10,211.52 L214.30,211.80 L214.51,212.08 L214.72,212.37 L214.93,212.65 L215.14,212.93 L215.35,213.21 L215.56,213.49 L215.77,213.77 L215.98,214.06 L216.19,214.34 L216.40,214.62 L216.61,214.90 L216.82,215.18 L217.03,215.47 L217.24,215.75 L217.45,216.03 L217.66,216.31 L217.87,216.59 L218.08,216.88 L218.29,217.16 L218.50,217.44 L218.70,217.72 L218.91,218.00 L219.12,218.29 L219.33,218.57 L219.54,218.85 L219.75,219.13 L219.96,219.42 L220.17,219.70 L220.38,219.98 L220.59,220.26 L220.80,220.54 L221.01,220.83 L221.22,221.11 L221.43,221.39 L221.64,221.67 L221.85,221.96 L222.06,222.24 L222.27,222.52 L222.48,222.80 L222.69,223.09 L222.90,223.37 L223.10,223.65 L223.31,223.93 L223.52,224.22 L223.73,224.50 L223.94,224.78 L224.15,225.06 L224.36,225.35 L224.57,225.63 L224.78,225.91 L224.99,226.19 L225.20,226.48 L225.41,226.76 L225.62,227.04 L225.83,227.32 L226.04,227.61 L226.25,227.89 L226.46,228.17 L226.67,228.45 L226.88,228.74 L227.09,229.02 L227.30,229.30 L227.50,229.59 L227.71,229.87 L227.92,230.15 L228.13,230.43 L228.34,230.72 L228.55,231.00 L228.76,231.28 L228.97,231.57 L229.18,231.85 L229.39,232.13 L229.60,232.41 L229.81,232.70 L230.02,232.98 L230.23,233.26 L230.44,233.55 L230.65,233.83 L230.86,234.11 L231.07,234.40 L231.28,234.68 L231.49,234.96 L231.70,235.24 L231.90,235.53 L232.11,235.81 L232.32,236.09 L232.53,236.38 L232.74,236.66 L232.95,236.94 L233.16,237.23 L233.37,237.51 L233.58,237.79 L233.79,238.08 L234.00,238.36 L234.21,238.64 L234.42,238.93 L234.63,239.21 L234.84,239.49 L235.05,239.78 L235.26,240.06 L235.47,240.34 L235.68,240.63 L235.89,240.91 L236.10,241.19 L236.30,241.48 L236.51,241.76 L236.72,242.04 L236.93,242.33 L237.14,242.61 L237.35,242.89 L237.56,243.18 L237.77,243.46 L237.98,243.74 L238.19,244.03 L238.40,244.31 L238.61,244.59 L238.82,244.88 L239.03,245.16 L239.24,245.44 L239.45,245.73 L239.66,246.01 L239.87,246.30 L240.08,246.58 L240.29,246.86 L240.50,247.15 L240.70,247.43 L240.91,247.71 L241.12,248.00 L241.33,248.28 L241.54,248.56 L241.75,248.85 L241.96,249.13 L242.17,249.42 L242.38,249.70 L242.59,249.98 L242.80,250.27 L243.01,250.55 L243.22,250.83 L243.43,251.12 L243.64,251.40 L243.85,251.69 L244.06,251.97 L244.27,252.25 L244.48,252.54 L244.69,252.82 L244.90,253.11 L245.10,253.39 L245.31,253.67 L245.52,253.96 L245.73,254.24 L245.94,254.52 L246.15,254.81 L246.36,255.09 L246.57,255.38 L246.78,255.66 L246.99,255.94 L247.20,256.23 L247.41,256.51 L247.62,256.80 L247.83,257.08 L248.04,257.36 L248.25,257.65 L248.46,257.93 L248.67,258.22 L248.88,258.50 L249.09,258.79 L249.30,259.07 L249.50,259.35 L249.71,259.64 L249.92,259.92 L250.13,260.21 L250.34,260.49 L250.55,260.77 L250.76,261.06 L250.97,261.34 L251.18,261.63 L251.39,261.91 L251.60,262.20 L251.81,262.48 L252.02,262.76 L252.23,263.05 L252.44,263.33 L252.65,263.62 L252.86,263.90 L253.07,264.19 L253.28,264.47 L253.49,264.76 L253.70,265.04 L253.90,265.32 L254.11,265.61 L254.32,265.89 L254.53,266.18 L254.74,266.46 L254.95,266.75 L255.16,267.03 L255.37,267.31 L255.58,267.60 L255.79,267.88 L256.00,268.17 L256.21,268.45 L256.42,268.74 L256.63,269.02 L256.84,269.31 L257.05,269.59 L257.26,269.88 L257.47,270.16 L257.68,270.45 L257.89,270.73 L258.10,271.01 L258.30,271.30 L258.51,271.58 L258.72,271.87 L258.93,272.15 L259.14,272.44 L259.35,272.72 L259.56,273.01 L259.77,273.29 L259.98,273.58 L260.19,273.86 L260.40,274.15 L260.61,274.43 L260.82,274.72 L261.03,275.00 L261.24,275.29 L261.45,275.57 L261.66,275.85 L261.87,276.14 L262.08,276.42 L262.29,276.71 L262.50,276.99 L262.70,277.28 L262.91,277.56 L263.12,277.85 L263.33,278.13" stroke="#00ff00" stroke-width="1.05" stroke-dasharray="8.0 3.55"/>
<path d="M96.55,299.42 L96.57,298.67 L96.59,297.92 L96.61,297.18 L96.63,296.45 L96.65,295.72 L96.67,295.00 L96.69,294.28 L96.70,293.56 L96.72,292.85 L96.74,292.14 L96.76,291.44 L96.78,290.75 L96.80,290.05 L96.82,289.36 L96.84,288.68 L96.86,288.00 L96.88,287.32 L96.90,286.65 L96.91,285.98 L96.93,285.32 L96.95,284.66 L96.97,284.00 L96.99,283.35 L97.01,282.70 L97.03,282.06 L97.05,281.42 L97.07,280.79 L97.09,280.15 L97.10,279.52 L97.12,278.90 L97.14,278.28 L97.16,277.66 L97.18,277.05 L97.20,276.44 L97.22,275.83 L97.24,275.23 L97.26,274.63 L97.28,274.03 L97.30,273.44 L97.31,272.85 L97.33,272.27 L97.35,271.68 L97.37,271.11 L97.39,270.53 L97.41,269.96 L97.43,269.39 L97.45,268.82 L97.47,268.26 L97.49,267.70 L97.50,267.14 L97.52,266.59 L97.54,266.04 L97.56,265.49 L97.58,264.95 L97.60,264.41 L97.62,263.87 L97.64,263.34 L97.66,262.81 L97.68,262.28 L97.70,261.75 L97.71,261.23 L97.73,260.71 L97.75,260.19 L97.77,259.68 L97.79,259.16 L97.81,258.65 L97.83,258.15 L97.85,257.64 L97.87,257.14 L97.89,256.65 L97.90,256.15 L97.92,255.66 L97.94,255.17 L97.96,254.68 L97.98,254.19 L98.00,253.71 L98.02,253.23 L98.04,252.75 L98.06,252.28 L98.08,251.81 L98.10,251.34 L98.11,250.87 L98.13,250.40 L98.15,249.94 L98.17,249.48 L98.19,249.02 L98.21,248.57 L98.23,248.11 L98.25,247.66 L98.27,247.21 L98.29,246.77 L98.30,246.32 L98.32,245.88 L98.34,245.44 L98.36,245.00 L98.38,244.57 L98.40,244.14 L98.42,243.70 L98.44,243.28 L98.46,242.85 L98.48,242.43 L98.50,242.00 L98.51,241.58 L98.53,241.16 L98.55,240.75 L98.57,240.33 L98.59,239.92 L98.61,239.51 L98.63,239.10 L98.65,238.70 L98.67,238.29 L98.69,237.89 L98.70,237.49 L98.72,237.09 L98.74,236.70 L98.76,236.30 L98.78,235.91 L98.80,235.52 L98.82,235.13 L98.84,234.75 L98.86,234.36 L98.88,233.98 L98.90,233.60 L98.91,233.22 L98.93,232.84 L98.95,232.46 L98.97,232.09 L98.99,231.72 L99.01,231.35 L99.03,230.98 L99.05,230.61 L99.07,230.24 L99.09,229.88 L99.10,229.52 L99.12,229.16 L99.14,228.80 L99.16,228.44 L99.18,228.09 L99.20,227.73 L99.22,227.38 L99.24,227.03 L99.28,226.33 L99.31,225.64 L99.35,224.96 L99.39,224.28 L99.43,223.61 L99.47,222.94 L99.50,222.28 L99.54,221.63 L99.58,220.98 L99.62,220.34 L99.66,219.70 L99.70,219.07 L99.73,218.45 L99.77,217.83 L99.81,217.21 L99.85,216.60 L99.89,216.00 L99.92,215.40 L99.96,214.80 L100.00,214.22 L100.04,213.63 L100.08,213.05 L100.11,212.48 L100.15,211.91 L100.19,211.34 L100.23,210.78 L100.27,210.23 L100.30,209.68 L100.34,209.13 L100.38,208.59 L100.42,208.05 L100.46,207.52 L100.50,206.99 L100.53,206.47 L100.57,205.95 L100.61,205.43 L100.65,204.92 L100.69,204.41 L100.72,203.91 L100.76,203.41 L100.80,202.91 L100.84,202.42 L100.88,201.93 L100.91,201.45 L100.95,200.97 L100.99,200.49 L101.03,200.02 L101.07,199.55 L101.10,199.08 L101.14,198.62 L101.18,198.16 L101.22,197.71 L101.26,197.26 L101.30,196.81 L101.33,196.36 L101.37,195.92 L101.41,195.48 L101.45,195.05 L101.49,194.62 L101.52,194.19 L101.56,193.76 L101.60,193.34 L101.64,192.92 L101.68,192.51 L101.71,192.10 L101.75,191.69 L101.79,191.28 L101.83,190.88 L101.87,190.48 L101.90,190.08 L101.94,189.68 L101.98,189.29 L102.02,188.90 L102.06,188.52 L102.10,188.13 L102.13,187.75 L102.17,187.37 L102.21,187.00 L102.25,186.63 L102.29,186.26 L102.32,185.89 L102.36,185.52 L102.40,185.16 L102.44,184.80 L102.48,184.44 L102.51,184.09 L102.55,183.74 L102.59,183.39 L102.65,182.87 L102.70,182.35 L102.76,181.84 L102.82,181.34 L102.88,180.84 L102.93,180.35 L102.99,179.86 L103.05,179.37 L103.10,178.89 L103.16,178.42 L103.22,177.95 L103.28,177.49 L103.33,177.03 L103.39,176.57 L103.45,176.12 L103.50,175.67 L103.56,175.23 L103.62,174.79 L103.68,174.36 L103.73,173.93 L103.79,173.51 L103.85,173.08 L103.90,172.67 L103.96,172.25 L104.02,171.85 L104.08,171.44 L104.13,171.04 L104.19,170.64 L104.25,170.25 L104.30,169.86 L104.36,169.47 L104.42,169.09 L104.48,168.71 L104.53,168.34 L104.59,167.97 L104.65,167.60 L104.70,167.23 L104.76,166.87 L104.82,166.51 L104.88,166.16 L104.93,165.81 L104.99,165.46 L105.05,165.11 L105.12,164.66 L105.20,164.21 L105.28,163.76 L105.35,163.33 L105.43,162.89 L105.50,162.46 L105.58,162.04 L105.66,161.62 L105.73,161.21 L105.81,160.80 L105.89,160.40 L105.96,160.00 L106.04,159.61 L106.11,159.22 L106.19,158.83 L106.27,158.45 L106.34,158.08 L106.42,157.71 L106.50,157.34 L106.57,156.98 L106.65,156.62 L106.72,156.26 L106.80,155.91 L106.88,155.57 L106.95,155.22 L107.05,154.80 L107.14,154.39 L107.24,153.98 L107.33,153.57 L107.43,153.17 L107.52,152.78 L107.62,152.39 L107.71,152.01 L107.81,151.63 L107.90,151.26 L108.00,150.90 L108.10,150.53 L108.19,150.18 L108.29,149.83 L108.38,149.48 L108.48,149.14 L108.57,148.80 L108.69,148.40 L108.80,148.01 L108.91,147.63 L109.03,147.25 L109.14,146.88 L109.26,146.51 L109.37,146.15 L109.49,145.80 L109.60,145.45 L109.71,145.11 L109.83,144.77 L109.94,144.44 L110.08,144.06 L110.21,143.69 L110.34,143.32 L110.48,142.96 L110.61,142.61 L110.74,142.27 L110.88,141.93 L111.01,141.60 L111.14,141.27 L111.30,140.91 L111.45,140.55 L111.60,140.20 L111.75,139.86 L111.90,139.53 L112.06,139.20 L112.21,138.88 L112.36,138.57 L112.53,138.23 L112.70,137.89 L112.88,137.56 L113.05,137.25 L113.22,136.94 L113.39,136.63 L113.58,136.31 L113.77,135.99 L113.96,135.68 L114.15,135.38 L114.34,135.09 L114.55,134.78 L114.76,134.48 L114.97,134.19 L115.18,133.91 L115.39,133.63 L115.62,133.35 L115.85,133.07 L116.08,132.80 L116.30,132.55 L116.55,132.28 L116.80,132.02 L117.05,131.78 L117.30,131.54 L117.56,131.30 L117.83,131.07 L118.10,130.85 L118.38,130.63 L118.67,130.42 L118.95,130.22 L119.24,130.03 L119.54,129.84 L119.85,129.66 L120.15,129.50 L120.46,129.35 L120.76,129.20 L121.09,129.06 L121.41,128.94 L121.73,128.82 L122.06,128.72 L122.38,128.62 L122.72,128.54 L123.07,128.46 L123.41,128.40 L123.75,128.34 L124.10,128.30 L124.44,128.27 L124.78,128.24 L125.12,128.23 L125.47,128.22 L125.81,128.23 L126.15,128.24 L126.50,128.26 L126.84,128.29 L127.18,128.33 L127.52,128.38 L127.87,128.43 L128.21,128.50 L128.55,128.56 L128.90,128.64 L129.24,128.72 L129.56,128.81 L129.89,128.90 L130.21,129.00 L130.53,129.10 L130.86,129.21 L131.18,129.32 L131.50,129.44 L131.83,129.56 L132.15,129.69 L132.48,129.82 L132.80,129.96 L133.12,130.10 L133.45,130.25 L133.75,130.39 L134.06,130.54 L134.36,130.69 L134.67,130.84 L134.97,131.00 L135.28,131.16 L135.58,131.33 L135.89,131.50 L136.19,131.67 L136.50,131.84 L136.80,132.02 L137.10,132.20 L137.41,132.39 L137.71,132.58 L138.02,132.77 L138.30,132.95 L138.59,133.13 L138.88,133.32 L139.16,133.51 L139.45,133.70 L139.73,133.90 L140.02,134.09 L140.30,134.29 L140.59,134.49 L140.88,134.70 L141.16,134.90 L141.45,135.11 L141.73,135.32 L142.02,135.53 L142.30,135.75 L142.59,135.96 L142.88,136.18 L143.16,136.40 L143.45,136.62 L143.73,136.85 L144.00,137.06 L144.27,137.27 L144.53,137.48 L144.80,137.70 L145.07,137.92 L145.33,138.14 L145.60,138.36 L145.87,138.58 L146.13,138.80 L146.40,139.02 L146.67,139.25 L146.93,139.48 L147.20,139.71 L147.47,139.94 L147.73,140.17 L148.00,140.40 L148.27,140.63 L148.53,140.87 L148.80,141.11 L149.07,141.34 L149.33,141.58 L149.60,141.82 L149.87,142.06 L150.13,142.31 L150.40,142.55 L150.67,142.79 L150.93,143.04 L151.20,143.29 L151.47,143.54 L151.73,143.79 L152.00,144.04 L152.27,144.29 L152.51,144.52 L152.76,144.76 L153.01,144.99 L153.26,145.23 L153.50,145.47 L153.75,145.71 L154.00,145.95 L154.25,146.19 L154.50,146.43 L154.74,146.67 L154.99,146.91 L155.24,147.16 L155.49,147.40 L155.73,147.65 L155.98,147.89 L156.23,148.14 L156.48,148.39 L156.72,148.63 L156.97,148.88 L157.22,149.13 L157.47,149.38 L157.71,149.63 L157.96,149.88 L158.21,150.14 L158.46,150.39 L158.70,150.64 L158.95,150.90 L159.20,151.15 L159.45,151.41 L159.70,151.67 L159.94,151.92 L160.19,152.18 L160.44,152.44 L160.69,152.70 L160.93,152.96 L161.18,153.22 L161.43,153.48 L161.68,153.74 L161.92,154.00 L162.17,154.26 L162.42,154.52 L162.67,154.79 L162.91,155.05 L163.16,155.32 L163.41,155.58 L163.66,155.85 L163.90,156.11 L164.15,156.38 L164.40,156.65 L164.65,156.91 L164.90,157.18 L165.14,157.45 L165.39,157.72 L165.64,157.99 L165.89,158.26 L166.13,158.53 L166.38,158.80 L166.63,159.07 L166.88,159.34 L167.12,159.62 L167.37,159.89 L167.62,160.16 L167.87,160.44 L168.11,160.71 L168.36,160.99 L168.61,161.26 L168.86,161.54 L169.10,161.81 L169.33,162.07 L169.56,162.32 L169.79,162.58 L170.02,162.83 L170.25,163.09 L170.48,163.35 L170.70,163.60 L170.93,163.86 L171.16,164.12 L171.39,164.38 L171.62,164.64 L171.85,164.89 L172.08,165.15 L172.30,165.41 L172.53,165.67 L172.76,165.93 L172.99,166.19 L173.22,166.45 L173.45,166.71 L173.68,166.97 L173.90,167.24 L174.13,167.50 L174.36,167.76 L174.59,168.02 L174.82,168.28 L175.05,168.55 L175.28,168.81 L175.50,169.07 L175.73,169.34 L175.96,169.60 L176.19,169.86 L176.42,170.13 L176.65,170.39 L176.88,170.66 L177.10,170.92 L177.33,171.19 L177.56,171.45 L177.79,171.72 L178.02,171.99 L178.25,172.25 L178.48,172.52 L178.70,172.78 L178.93,173.05 L179.16,173.32 L179.39,173.59 L179.62,173.85 L179.85,174.12 L180.08,174.39 L180.30,174.66 L180.53,174.93 L180.76,175.19 L180.99,175.46 L181.22,175.73 L181.45,176.00 L181.68,176.27 L181.90,176.54 L182.13,176.81 L182.36,177.08 L182.59,177.35 L182.82,177.62 L183.05,177.89 L183.28,178.16 L183.50,178.43 L183.73,178.70 L183.96,178.98 L184.19,179.25 L184.42,179.52 L184.65,179.79 L184.88,180.06 L185.10,180.34 L185.33,180.61 L185.56,180.88 L185.79,181.15 L186.02,181.43 L186.25,181.70 L186.48,181.97 L186.70,182.25 L186.93,182.52 L187.16,182.79 L187.39,183.07 L187.62,183.34 L187.85,183.62 L188.08,183.89 L188.30,184.16 L188.53,184.44 L188.76,184.71 L188.99,184.99 L189.22,185.26 L189.45,185.54 L189.68,185.81 L189.90,186.09 L190.13,186.37 L190.36,186.64 L190.59,186.92 L190.82,187.19 L191.05,187.47 L191.28,187.74 L191.50,188.02 L191.73,188.30 L191.96,188.57 L192.19,188.85 L192.42,189.13 L192.65,189.40 L192.88,189.68 L193.10,189.96 L193.33,190.24 L193.56,190.51 L193.79,190.79 L194.02,191.07 L194.25,191.35 L194.48,191.62 L194.70,191.90 L194.93,192.18 L195.16,192.46 L195.39,192.74 L195.62,193.02 L195.85,193.29 L196.08,193.57 L196.30,193.85 L196.53,194.13 L196.76,194.41 L196.99,194.69 L197.22,194.97 L197.45,195.25 L197.68,195.53 L197.90,195.81 L198.13,196.08 L198.36,196.36 L198.59,196.64 L198.82,196.92 L199.05,197.20 L199.28,197.48 L199.50,197.76 L199.73,198.04 L199.96,198.32 L200.19,198.60 L200.42,198.88 L200.65,199.16 L200.88,199.44 L201.10,199.72 L201.33,200.01 L201.56,200.29 L201.79,200.57 L202.02,200.85 L202.25,201.13 L202.48,201.41 L202.70,201.69 L202.93,201.97 L203.16,202.25 L203.39,202.53 L203.62,202.81 L203.85,203.10 L204.08,203.38 L204.30,203.66 L204.53,203.94 L204.76,204.22 L204.99,204.50 L205.22,204.79 L205.45,205.07 L205.68,205.35 L205.90,205.63 L206.13,205.91 L206.36,206.19 L206.59,206.48 L206.82,206.76 L207.05,207.04 L207.28,207.32 L207.50,207.60 L207.73,207.89 L207.96,208.17 L208.19,208.45 L208.42,208.73 L208.65,209.02 L208.88,209.30 L209.10,209.58 L209.33,209.86 L209.56,210.15 L209.79,210.43 L210.02,210.71 L210.25,210.99 L210.48,211.28 L210.70,211.56 L210.93,211.84 L211.16,212.13 L211.39,212.41 L211.62,212.69 L211.85,212.97 L212.08,213.26 L212.30,213.54 L212.53,213.82 L212.76,214.11 L212.99,214.39 L213.22,214.67 L213.45,214.96 L213.68,215.24 L213.90,215.52 L214.13,215.80 L214.36,216.09 L214.59,216.37 L214.82,216.65 L215.05,216.94 L215.28,217.22 L215.50,217.50 L215.73,217.79 L215.96,218.07 L216.19,218.35 L216.42,218.64 L216.65,218.92 L216.88,219.20 L217.10,219.49 L217.33,219.77 L217.56,220.06 L217.79,220.34 L218.02,220.62 L218.25,220.91 L218.48,221.19 L218.70,221.47 L218.93,221.76 L219.16,222.04 L219.39,222.32 L219.62,222.61 L219.85,222.89 L220.08,223.17 L220.30,223.46 L220.53,223.74 L220.76,224.03 L220.99,224.31 L221.22,224.59 L221.45,224.88 L221.68,225.16 L221.90,225.44 L222.13,225.73 L222.36,226.01 L222.59,226.30 L222.82,226.58 L223.05,226.86 L223.28,227.15 L223.50,227.43 L223.73,227.71 L223.96,228.00 L224.19,228.28 L224.42,228.56 L224.65,228.85 L224.88,229.13 L225.10,229.42 L225.33,229.70 L225.56,229.98 L225.79,230.27 L226.02,230.55 L226.25,230.83 L226.48,231.12 L226.70,231.40 L226.93,231.69 L227.16,231.97 L227.39,232.25 L227.62,232.54 L227.85,232.82 L228.08,233.10 L228.30,233.39 L228.53,233.67 L228.76,233.95 L228.99,234.24 L229.22,234.52 L229.45,234.80 L229.68,235.09 L229.90,235.37 L230.13,235.66 L230.36,235.94 L230.59,236.22 L230.82,236.51 L231.05,236.79 L231.28,237.07 L231.50,237.36 L231.73,237.64 L231.96,237.92 L232.19,238.21 L232.42,238.49 L232.65,238.77 L232.88,239.06 L233.10,239.34 L233.33,239.62 L233.56,239.91 L233.79,240.19 L234.02,240.47 L234.25,240.75 L234.48,241.04 L234.70,241.32 L234.93,241.60 L235.16,241.89 L235.39,242.17 L235.62,242.45 L235.85,242.74 L236.08,243.02 L236.30,243.30 L236.53,243.58 L236.76,243.87 L236.99,244.15 L237.22,244.43 L237.45,244.72 L237.68,245.00 L237.90,245.28 L238.13,245.56 L238.36,245.85 L238.59,246.13 L238.82,246.41 L239.05,246.70 L239.28,246.98 L239.50,247.26 L239.73,247.54 L239.96,247.83 L240.19,248.11 L240.42,248.39 L240.65,248.67 L240.88,248.95 L241.10,249.24 L241.33,249.52 L241.56,249.80 L241.79,250.08 L242.02,250.37 L242.25,250.65 L242.48,250.93 L242.70,251.21 L242.93,251.49 L243.16,251.78 L243.39,252.06 L243.62,252.34 L243.85,252.62 L244.08,252.90 L244.30,253.19 L244.53,253.47 L244.76,253.75 L244.99,254.03 L245.22,254.31 L245.45,254.59 L245.68,254.88 L245.90,255.16 L246.13,255.44 L246.36,255.72 L246.59,256.00 L246.82,256.28 L247.05,256.56 L247.28,256.85 L247.50,257.13 L247.73,257.41 L247.96,257.69 L248.19,257.97 L248.42,258.25 L248.65,258.53 L248.88,258.81 L249.10,259.09 L249.33,259.38 L249.56,259.66 L249.79,259.94 L250.02,260.22 L250.25,260.50 L250.48,260.78 L250.70,261.06 L250.93,261.34 L251.16,261.62 L251.39,261.90 L251.62,262.18 L251.85,262.46 L252.08,262.74 L252.30,263.02 L252.53,263.30 L252.76,263.58 L252.99,263.86 L253.22,264.14 L253.45,264.42 L253.68,264.70 L253.90,264.98 L254.13,265.26 L254.36,265.54 L254.59,265.82 L254.82,266.10 L255.05,266.38 L255.28,266.66 L255.50,266.94 L255.73,267.22 L255.96,267.50 L256.19,267.78 L256.42,268.06 L256.65,268.34 L256.88,268.62 L257.10,268.90 L257.33,269.18 L257.56,269.45 L257.79,269.73 L258.02,270.01 L258.25,270.29 L258.48,270.57 L258.70,270.85 L258.93,271.13 L259.16,271.41 L259.39,271.69 L259.62,271.96 L259.85,272.24 L260.08,272.52 L260.30,272.80 L260.53,273.08 L260.76,273.36 L260.99,273.63 L261.22,273.91 L261.45,274.19 L261.68,274.47 L261.90,274.75 L262.13,275.02 L262.36,275.30 L262.59,275.58 L262.82,275.86 L263.05,276.14 L263.28,276.41 L263.33,276.48" stroke="#ff8000" stroke-width="1.05" stroke-dasharray="1.3 2.3"/>
<path d="M95.86,186.20 L95.88,185.74 L95.90,185.29 L95.91,184.84 L95.93,184.39 L95.95,183.94 L95.97,183.49 L95.99,183.04 L96.01,182.60 L96.03,182.16 L96.05,181.72 L96.07,181.28 L96.09,180.84 L96.10,180.41 L96.12,179.97 L96.14,179.54 L96.16,179.11 L96.18,178.68 L96.20,178.25 L96.22,177.83 L96.24,177.40 L96.26,176.98 L96.28,176.56 L96.30,176.14 L96.31,175.72 L96.33,175.31 L96.35,174.89 L96.37,174.48 L96.39,174.07 L96.41,173.66 L96.43,173.25 L96.45,172.84 L96.47,172.44 L96.49,172.04 L96.50,171.64 L96.52,171.24 L96.54,170.84 L96.56,170.44 L96.58,170.05 L96.60,169.65 L96.62,169.26 L96.64,168.87 L96.66,168.48 L96.68,168.10 L96.70,167.71 L96.71,167.33 L96.73,166.94 L96.75,166.56 L96.77,166.19 L96.79,165.81 L96.81,165.43 L96.83,165.06 L96.85,164.68 L96.87,164.31 L96.89,163.94 L96.90,163.58 L96.92,163.21 L96.94,162.84 L96.96,162.48 L96.98,162.12 L97.00,161.76 L97.02,161.40 L97.04,161.04 L97.06,160.69 L97.08,160.33 L97.10,159.98 L97.11,159.63 L97.13,159.28 L97.17,158.58 L97.21,157.89 L97.25,157.21 L97.29,156.53 L97.32,155.85 L97.36,155.19 L97.40,154.53 L97.44,153.87 L97.48,153.22 L97.51,152.57 L97.55,151.93 L97.59,151.30 L97.63,150.67 L97.67,150.05 L97.70,149.43 L97.74,148.82 L97.78,148.21 L97.82,147.61 L97.86,147.01 L97.90,146.42 L97.93,145.83 L97.97,145.25 L98.01,144.67 L98.05,144.09 L98.09,143.53 L98.12,142.96 L98.16,142.40 L98.20,141.85 L98.24,141.30 L98.28,140.76 L98.31,140.22 L98.35,139.68 L98.39,139.15 L98.43,138.62 L98.47,138.10 L98.50,137.58 L98.54,137.07 L98.58,136.56 L98.62,136.05 L98.66,135.55 L98.70,135.05 L98.73,134.56 L98.77,134.07 L98.81,133.59 L98.85,133.11 L98.89,132.63 L98.92,132.16 L98.96,131.69 L99.00,131.22 L99.04,130.76 L99.08,130.30 L99.11,129.85 L99.15,129.40 L99.19,128.95 L99.23,128.51 L99.27,128.07 L99.30,127.63 L99.34,127.20 L99.38,126.77 L99.42,126.35 L99.46,125.93 L99.50,125.51 L99.53,125.09 L99.57,124.68 L99.61,124.27 L99.65,123.87 L99.69,123.47 L99.72,123.07 L99.76,122.67 L99.80,122.28 L99.84,121.89 L99.88,121.50 L99.91,121.12 L99.95,120.74 L99.99,120.36 L100.03,119.99 L100.07,119.62 L100.10,119.25 L100.14,118.89 L100.18,118.52 L100.22,118.16 L100.26,117.81 L100.30,117.45 L100.33,117.10 L100.37,116.76 L100.43,116.24 L100.49,115.73 L100.54,115.22 L100.60,114.72 L100.66,114.23 L100.71,113.74 L100.77,113.26 L100.83,112.78 L100.89,112.31 L100.94,111.85 L101.00,111.39 L101.06,110.93 L101.11,110.48 L101.17,110.04 L101.23,109.60 L101.29,109.16 L101.34,108.73 L101.40,108.31 L101.46,107.89 L101.51,107.47 L101.57,107.06 L101.63,106.66 L101.69,106.26 L101.74,105.86 L101.80,105.47 L101.86,105.08 L101.91,104.70 L101.97,104.32 L102.03,103.94 L102.09,103.57 L102.14,103.21 L102.20,102.84 L102.26,102.49 L102.31,102.13 L102.37,101.78 L102.43,101.43 L102.50,100.98 L102.58,100.53 L102.66,100.09 L102.73,99.65 L102.81,99.22 L102.89,98.79 L102.96,98.38 L103.04,97.97 L103.11,97.56 L103.19,97.16 L103.27,96.77 L103.34,96.38 L103.42,96.00 L103.50,95.62 L103.57,95.25 L103.65,94.88 L103.72,94.52 L103.80,94.17 L103.88,93.81 L103.95,93.47 L104.05,93.04 L104.14,92.63 L104.24,92.22 L104.33,91.81 L104.43,91.42 L104.52,91.03 L104.62,90.65 L104.71,90.27 L104.81,89.91 L104.90,89.54 L105.00,89.19 L105.10,88.84 L105.19,88.50 L105.29,88.16 L105.40,87.77 L105.51,87.38 L105.63,87.00 L105.74,86.63 L105.86,86.26 L105.97,85.91 L106.09,85.56 L106.20,85.22 L106.31,84.89 L106.45,84.51 L106.58,84.14 L106.71,83.78 L106.85,83.42 L106.98,83.08 L107.11,82.75 L107.25,82.42 L107.40,82.06 L107.55,81.71 L107.70,81.36 L107.86,81.03 L108.01,80.71 L108.16,80.40 L108.33,80.06 L108.50,79.73 L108.68,79.41 L108.85,79.10 L109.04,78.77 L109.23,78.45 L109.42,78.15 L109.61,77.85 L109.82,77.55 L110.03,77.25 L110.24,76.97 L110.47,76.67 L110.70,76.39 L110.92,76.13 L111.17,75.85 L111.42,75.59 L111.67,75.35 L111.93,75.11 L112.20,74.88 L112.47,74.66 L112.75,74.45 L113.04,74.25 L113.32,74.07 L113.63,73.89 L113.93,73.73 L114.24,73.59 L114.56,73.45 L114.89,73.33 L115.21,73.23 L115.53,73.14 L115.88,73.06 L116.22,72.99 L116.56,72.95 L116.90,72.91 L117.25,72.89 L117.59,72.88 L117.93,72.89 L118.28,72.91 L118.62,72.94 L118.96,72.98 L119.30,73.03 L119.65,73.09 L119.99,73.17 L120.33,73.25 L120.66,73.33 L120.98,73.43 L121.30,73.53 L121.63,73.64 L121.95,73.76 L122.28,73.88 L122.60,74.01 L122.92,74.15 L123.25,74.29 L123.57,74.44 L123.88,74.59 L124.18,74.74 L124.49,74.90 L124.79,75.06 L125.10,75.23 L125.40,75.40 L125.70,75.57 L126.01,75.75 L126.31,75.93 L126.62,76.12 L126.92,76.31 L127.21,76.50 L127.50,76.68 L127.78,76.87 L128.07,77.07 L128.35,77.26 L128.64,77.46 L128.92,77.66 L129.21,77.87 L129.50,78.07 L129.78,78.28 L130.07,78.50 L130.35,78.71 L130.64,78.93 L130.92,79.15 L131.21,79.37 L131.50,79.60 L131.76,79.81 L132.03,80.02 L132.30,80.24 L132.56,80.46 L132.83,80.68 L133.10,80.90 L133.36,81.12 L133.63,81.34 L133.90,81.57 L134.16,81.80 L134.43,82.03 L134.70,82.26 L134.96,82.49 L135.23,82.73 L135.50,82.96 L135.76,83.20 L136.03,83.44 L136.30,83.68 L136.56,83.92 L136.83,84.16 L137.10,84.40 L137.36,84.65 L137.63,84.90 L137.90,85.14 L138.16,85.39 L138.43,85.64 L138.70,85.89 L138.96,86.15 L139.21,86.38 L139.46,86.62 L139.70,86.85 L139.95,87.09 L140.20,87.33 L140.45,87.57 L140.70,87.81 L140.94,88.05 L141.19,88.30 L141.44,88.54 L141.69,88.78 L141.93,89.03 L142.18,89.27 L142.43,89.52 L142.68,89.77 L142.92,90.02 L143.17,90.27 L143.42,90.51 L143.67,90.76 L143.91,91.02 L144.16,91.27 L144.41,91.52 L144.66,91.77 L144.90,92.03 L145.15,92.28 L145.40,92.54 L145.65,92.79 L145.90,93.05 L146.14,93.30 L146.39,93.56 L146.64,93.82 L146.89,94.08 L147.13,94.34 L147.38,94.60 L147.63,94.86 L147.88,95.12 L148.12,95.38 L148.37,95.64 L148.62,95.90 L148.87,96.17 L149.11,96.43 L149.36,96.69 L149.61,96.96 L149.86,97.22 L150.10,97.49 L150.35,97.75 L150.60,98.02 L150.85,98.29 L151.10,98.55 L151.34,98.82 L151.59,99.09 L151.84,99.36 L152.09,99.63 L152.33,99.90 L152.58,100.17 L152.83,100.44 L153.08,100.71 L153.32,100.98 L153.57,101.25 L153.82,101.52 L154.07,101.80 L154.31,102.07 L154.56,102.34 L154.81,102.62 L155.06,102.89 L155.30,103.16 L155.55,103.44 L155.80,103.71 L156.05,103.99 L156.30,104.26 L156.52,104.52 L156.75,104.77 L156.98,105.03 L157.21,105.29 L157.44,105.54 L157.67,105.80 L157.90,106.05 L158.12,106.31 L158.35,106.57 L158.58,106.83 L158.81,107.08 L159.04,107.34 L159.27,107.60 L159.50,107.86 L159.72,108.12 L159.95,108.37 L160.18,108.63 L160.41,108.89 L160.64,109.15 L160.87,109.41 L161.10,109.67 L161.32,109.93 L161.55,110.19 L161.78,110.45 L162.01,110.72 L162.24,110.98 L162.47,111.24 L162.70,111.50 L162.92,111.76 L163.15,112.02 L163.38,112.29 L163.61,112.55 L163.84,112.81 L164.07,113.08 L164.30,113.34 L164.52,113.60 L164.75,113.87 L164.98,114.13 L165.21,114.39 L165.44,114.66 L165.67,114.92 L165.90,115.19 L166.12,115.45 L166.35,115.72 L166.58,115.98 L166.81,116.25 L167.04,116.51 L167.27,116.78 L167.50,117.05 L167.72,117.31 L167.95,117.58 L168.18,117.84 L168.41,118.11 L168.64,118.38 L168.87,118.65 L169.10,118.91 L169.32,119.18 L169.55,119.45 L169.78,119.72 L170.01,119.98 L170.24,120.25 L170.47,120.52 L170.70,120.79 L170.92,121.06 L171.15,121.33 L171.38,121.60 L171.61,121.86 L171.84,122.13 L172.07,122.40 L172.30,122.67 L172.52,122.94 L172.75,123.21 L172.98,123.48 L173.21,123.75 L173.44,124.02 L173.67,124.29 L173.90,124.57 L174.12,124.84 L174.35,125.11 L174.58,125.38 L174.81,125.65 L175.04,125.92 L175.27,126.19 L175.50,126.47 L175.72,126.74 L175.95,127.01 L176.18,127.28 L176.41,127.55 L176.64,127.83 L176.87,128.10 L177.10,128.37 L177.32,128.64 L177.55,128.92 L177.78,129.19 L178.01,129.46 L178.24,129.74 L178.47,130.01 L178.70,130.29 L178.92,130.56 L179.15,130.83 L179.38,131.11 L179.61,131.38 L179.84,131.66 L180.07,131.93 L180.30,132.21 L180.52,132.48 L180.75,132.76 L180.98,133.03 L181.21,133.31 L181.44,133.58 L181.67,133.86 L181.90,134.13 L182.12,134.41 L182.35,134.68 L182.58,134.96 L182.81,135.24 L183.04,135.51 L183.27,135.79 L183.50,136.07 L183.72,136.34 L183.95,136.62 L184.18,136.90 L184.41,137.17 L184.64,137.45 L184.87,137.73 L185.10,138.00 L185.32,138.28 L185.55,138.56 L185.78,138.84 L186.01,139.11 L186.24,139.39 L186.47,139.67 L186.70,139.95 L186.92,140.23 L187.15,140.51 L187.38,140.78 L187.61,141.06 L187.84,141.34 L188.07,141.62 L188.30,141.90 L188.52,142.18 L188.75,142.46 L188.98,142.74 L189.21,143.02 L189.44,143.30 L189.67,143.58 L189.90,143.86 L190.12,144.13 L190.35,144.41 L190.58,144.69 L190.81,144.98 L191.04,145.26 L191.27,145.54 L191.50,145.82 L191.72,146.10 L191.95,146.38 L192.18,146.66 L192.41,146.94 L192.64,147.22 L192.87,147.50 L193.10,147.78 L193.32,148.06 L193.55,148.35 L193.78,148.63 L194.01,148.91 L194.24,149.19 L194.47,149.47 L194.70,149.75 L194.92,150.04 L195.15,150.32 L195.38,150.60 L195.61,150.88 L195.84,151.17 L196.07,151.45 L196.30,151.73 L196.52,152.01 L196.75,152.30 L196.98,152.58 L197.21,152.86 L197.44,153.15 L197.67,153.43 L197.90,153.71 L198.12,154.00 L198.35,154.28 L198.58,154.56 L198.81,154.85 L199.04,155.13 L199.27,155.42 L199.50,155.70 L199.72,155.98 L199.95,156.27 L200.18,156.55 L200.41,156.84 L200.64,157.12 L200.87,157.41 L201.10,157.69 L201.32,157.98 L201.55,158.26 L201.78,158.55 L202.01,158.83 L202.24,159.12 L202.47,159.40 L202.70,159.69 L202.92,159.97 L203.15,160.26 L203.38,160.55 L203.61,160.83 L203.84,161.12 L204.07,161.40 L204.30,161.69 L204.52,161.98 L204.75,162.26 L204.98,162.55 L205.21,162.84 L205.44,163.12 L205.67,163.41 L205.90,163.70 L206.12,163.98 L206.35,164.27 L206.58,164.56 L206.81,164.84 L207.04,165.13 L207.27,165.42 L207.50,165.71 L207.72,165.99 L207.95,166.28 L208.18,166.57 L208.41,166.86 L208.64,167.15 L208.87,167.43 L209.10,167.72 L209.32,168.01 L209.55,168.30 L209.78,168.59 L210.01,168.88 L210.24,169.16 L210.47,169.45 L210.70,169.74 L210.92,170.03 L211.15,170.32 L211.38,170.61 L211.61,170.90 L211.84,171.19 L212.07,171.48 L212.30,171.77 L212.52,172.06 L212.75,172.35 L212.98,172.63 L213.21,172.92 L213.44,173.21 L213.67,173.50 L213.90,173.79 L214.12,174.09 L214.35,174.38 L214.58,174.67 L214.81,174.96 L215.04,175.25 L215.27,175.54 L215.50,175.83 L215.72,176.12 L215.95,176.41 L216.18,176.70 L216.41,176.99 L216.64,177.28 L216.87,177.58 L217.10,177.87 L217.32,178.16 L217.55,178.45 L217.78,178.74 L218.01,179.03 L218.24,179.33 L218.47,179.62 L218.70,179.91 L218.92,180.20 L219.15,180.49 L219.38,180.79 L219.61,181.08 L219.84,181.37 L220.07,181.66 L220.30,181.96 L220.52,182.25 L220.75,182.54 L220.98,182.84 L221.21,183.13 L221.44,183.42 L221.67,183.71 L221.90,184.01 L222.12,184.30 L222.35,184.60 L222.58,184.89 L222.81,185.18 L223.04,185.48 L223.27,185.77 L223.50,186.06 L223.72,186.36 L223.95,186.65 L224.18,186.95 L224.41,187.24 L224.64,187.54 L224.87,187.83 L225.10,188.12 L225.32,188.42 L225.55,188.71 L225.78,189.01 L226.01,189.30 L226.24,189.60 L226.47,189.89 L226.70,190.19 L226.92,190.49 L227.15,190.78 L227.38,191.08 L227.61,191.37 L227.84,191.67 L228.07,191.96 L228.30,192.26 L228.52,192.56 L228.75,192.85 L228.98,193.15 L229.21,193.44 L229.44,193.74 L229.67,194.04 L229.90,194.33 L230.12,194.63 L230.35,194.93 L230.58,195.22 L230.81,195.52 L231.02,195.79 L231.23,196.07 L231.44,196.34 L231.65,196.61 L231.86,196.88 L232.07,197.16 L232.28,197.43 L232.49,197.70 L232.70,197.97 L232.90,198.25 L233.11,198.52 L233.32,198.79 L233.53,199.07 L233.74,199.34 L233.95,199.61 L234.16,199.89 L234.37,200.16 L234.58,200.43 L234.79,200.71 L235.00,200.98 L235.21,201.25 L235.42,201.53 L235.63,201.80 L235.84,202.08 L236.05,202.35 L236.26,202.62 L236.47,202.90 L236.68,203.17 L236.89,203.45 L237.10,203.72 L237.30,204.00 L237.51,204.27 L237.72,204.55 L237.93,204.82 L238.14,205.10 L238.35,205.37 L238.56,205.65 L238.77,205.92 L238.98,206.20 L239.19,206.47 L239.40,206.75 L239.61,207.02 L239.82,207.30 L240.03,207.57 L240.24,207.85 L240.45,208.12 L240.66,208.40 L240.87,208.68 L241.08,208.95 L241.29,209.23 L241.50,209.50 L241.70,209.78 L241.91,210.06 L242.12,210.33 L242.33,210.61 L242.54,210.89 L242.75,211.16 L242.96,211.44 L243.17,211.72 L243.38,211.99 L243.59,212.27 L243.80,212.55 L244.01,212.82 L244.22,213.10 L244.43,213.38 L244.64,213.65 L244.85,213.93 L245.06,214.21 L245.27,214.49 L245.48,214.76 L245.69,215.04 L245.90,215.32 L246.10,215.60 L246.31,215.88 L246.52,216.15 L246.73,216.43 L246.94,216.71 L247.15,216.99 L247.36,217.27 L247.57,217.54 L247.78,217.82 L247.99,218.10 L248.20,218.38 L248.41,218.66 L248.62,218.94 L248.83,219.22 L249.04,219.50 L249.25,219.77 L249.46,220.05 L249.67,220.33 L249.88,220.61 L250.09,220.89 L250.30,221.17 L250.50,221.45 L250.71,221.73 L250.92,222.01 L251.13,222.29 L251.34,222.57 L251.55,222.85 L251.76,223.13 L251.97,223.41 L252.18,223.69 L252.39,223.97 L252.60,224.25 L252.81,224.53 L253.02,224.81 L253.23,225.09 L253.44,225.37 L253.65,225.65 L253.86,225.93 L254.07,226.21 L254.28,226.49 L254.49,226.77 L254.70,227.06 L254.90,227.34 L255.11,227.62 L255.32,227.90 L255.53,228.18 L255.74,228.46 L255.95,228.74 L256.16,229.02 L256.37,229.31 L256.58,229.59 L256.79,229.87 L257.00,230.15 L257.21,230.43 L257.42,230.72 L257.63,231.00 L257.84,231.28 L258.05,231.56 L258.26,231.84 L258.47,232.13 L258.68,232.41 L258.89,232.69 L259.10,232.97 L259.30,233.26 L259.51,233.54 L259.72,233.82 L259.93,234.11 L260.14,234.39 L260.35,234.67 L260.56,234.96 L260.77,235.24 L260.98,235.52 L261.19,235.81 L261.40,236.09 L261.61,236.37 L261.82,236.66 L262.03,236.94 L262.24,237.22 L262.45,237.51 L262.66,237.79 L262.87,238.08 L263.08,238.36 L263.29,238.64 L263.32,238.70" stroke="#111" stroke-width="1.05"/>
</g>
<g fill="none" stroke="#111" stroke-width="1.05">
<rect x="95.05" y="36.0" width="181.45" height="263.50"/>
<path d="M95.05,62.31h4 M276.50,62.31h-4 M95.05,55.68h4 M276.50,55.68h-4 M95.05,50.98h4 M276.50,50.98h-4 M95.05,47.33h4 M276.50,47.33h-4 M95.05,44.35h4 M276.50,44.35h-4 M95.05,41.83h4 M276.50,41.83h-4 M95.05,39.65h4 M276.50,39.65h-4 M95.05,37.72h4 M276.50,37.72h-4 M95.05,73.64h8 M276.50,73.64h-8 M95.05,99.95h4 M276.50,99.95h-4 M95.05,93.33h4 M276.50,93.33h-4 M95.05,88.62h4 M276.50,88.62h-4 M95.05,84.97h4 M276.50,84.97h-4 M95.05,81.99h4 M276.50,81.99h-4 M95.05,79.47h4 M276.50,79.47h-4 M95.05,77.29h4 M276.50,77.29h-4 M95.05,75.37h4 M276.50,75.37h-4 M95.05,111.29h8 M276.50,111.29h-8 M95.05,137.60h4 M276.50,137.60h-4 M95.05,130.97h4 M276.50,130.97h-4 M95.05,126.27h4 M276.50,126.27h-4 M95.05,122.62h4 M276.50,122.62h-4 M95.05,119.64h4 M276.50,119.64h-4 M95.05,117.12h4 M276.50,117.12h-4 M95.05,114.93h4 M276.50,114.93h-4 M95.05,113.01h4 M276.50,113.01h-4 M95.05,148.93h8 M276.50,148.93h-8 M95.05,175.24h4 M276.50,175.24h-4 M95.05,168.61h4 M276.50,168.61h-4 M95.05,163.91h4 M276.50,163.91h-4 M95.05,160.26h4 M276.50,160.26h-4 M95.05,157.28h4 M276.50,157.28h-4 M95.05,154.76h4 M276.50,154.76h-4 M95.05,152.58h4 M276.50,152.58h-4 M95.05,150.65h4 M276.50,150.65h-4 M95.05,186.57h8 M276.50,186.57h-8 M95.05,212.88h4 M276.50,212.88h-4 M95.05,206.25h4 M276.50,206.25h-4 M95.05,201.55h4 M276.50,201.55h-4 M95.05,197.90h4 M276.50,197.90h-4 M95.05,194.92h4 M276.50,194.92h-4 M95.05,192.40h4 M276.50,192.40h-4 M95.05,190.22h4 M276.50,190.22h-4 M95.05,188.29h4 M276.50,188.29h-4 M95.05,224.21h8 M276.50,224.21h-8 M95.05,250.53h4 M276.50,250.53h-4 M95.05,243.90h4 M276.50,243.90h-4 M95.05,239.19h4 M276.50,239.19h-4 M95.05,235.55h4 M276.50,235.55h-4 M95.05,232.57h4 M276.50,232.57h-4 M95.05,230.05h4 M276.50,230.05h-4 M95.05,227.86h4 M276.50,227.86h-4 M95.05,225.94h4 M276.50,225.94h-4 M95.05,261.86h8 M276.50,261.86h-8 M95.05,288.17h4 M276.50,288.17h-4 M95.05,281.54h4 M276.50,281.54h-4 M95.05,276.84h4 M276.50,276.84h-4 M95.05,273.19h4 M276.50,273.19h-4 M95.05,270.21h4 M276.50,270.21h-4 M95.05,267.69h4 M276.50,267.69h-4 M95.05,265.51h4 M276.50,265.51h-4 M95.05,263.58h4 M276.50,263.58h-4 M125.29,299.50v-4 M125.29,36.00v4 M155.53,299.50v-7.3 M155.53,36.00v7.3 M185.77,299.50v-4 M185.77,36.00v4 M216.02,299.50v-7.3 M216.02,36.00v7.3 M246.26,299.50v-4 M246.26,36.00v4" stroke-width="1"/>
</g>
<g fill="none" stroke-width="1.1">
<path d="M185.2,51.0H209.9" stroke="#111"/>
<path d="M185.1,66.0H209.0" stroke="#0000ff" stroke-dasharray="5.6 3.5"/>
<path d="M185.1,79.5H210.4" stroke="#ff0000" stroke-dasharray="8.4 3.8 1.8 4.1"/>
<path d="M185.1,94.5H210.6" stroke="#00ff00" stroke-dasharray="8.4 3.7"/>
<path d="M185.3,110.3H209.3" stroke="#ff8000" stroke-dasharray="1.4 2.38"/>
</g>
<text transform="translate(214.61,54.70) scale(0.969,1)" font-family='"Liberation Serif",serif' font-size="12.4" font-weight="bold" font-style="normal" fill="#111" >Σ</text>
<text transform="translate(215.47,69.90) scale(0.871,1)" font-family='"Liberation Sans",sans-serif' font-size="11.5" font-weight="bold" font-style="italic" fill="#0000ff" stroke="#fff" stroke-width="0.1" paint-order="fill stroke">π</text>
<text transform="translate(223.73,69.90) scale(0.888,1)" font-family='"Liberation Sans",sans-serif' font-size="11.5" font-weight="bold" font-style="italic" fill="#0000ff" stroke="#fff" stroke-width="0.1" paint-order="fill stroke">ρ</text>
<path d="M230.00,67.20H236.30" stroke="#0000ff" stroke-width="1.2" fill="none"/><path d="M238.30,67.20L234.70,64.90L235.70,67.20L234.70,69.50Z" fill="#0000ff"/>
<text transform="translate(238.88,69.90) scale(0.846,1)" font-family='"Liberation Sans",sans-serif' font-size="11.5" font-weight="bold" font-style="italic" fill="#0000ff" stroke="#fff" stroke-width="0.1" paint-order="fill stroke">π</text>
<text transform="translate(246.91,69.90) scale(0.967,1)" font-family='"Liberation Sans",sans-serif' font-size="11.5" font-weight="bold" font-style="italic" fill="#0000ff" stroke="#fff" stroke-width="0.1" paint-order="fill stroke">γ</text>
<text transform="translate(214.91,83.70) scale(1.029,1)" font-family='"Liberation Sans",sans-serif' font-size="10.5" font-weight="normal" font-style="normal" fill="#ff0000" >K</text>
<text transform="translate(223.03,83.70) scale(1.013,1)" font-family='"Liberation Sans",sans-serif' font-size="10.5" font-weight="normal" font-style="normal" fill="#ff0000" >K</text>
<circle cx="231.7" cy="78.1" r="1.2" fill="#ff0000"/>
<path d="M234.60,80.90H240.60" stroke="#ff0000" stroke-width="1.2" fill="none"/><path d="M242.60,80.90L239.00,78.60L240.00,80.90L239.00,83.20Z" fill="#ff0000"/>
<text transform="translate(242.97,83.70) scale(0.871,1)" font-family='"Liberation Sans",sans-serif' font-size="11.5" font-weight="bold" font-style="italic" fill="#ff0000" stroke="#fff" stroke-width="0.1" paint-order="fill stroke">π</text>
<text transform="translate(251.21,83.70) scale(0.967,1)" font-family='"Liberation Sans",sans-serif' font-size="11.5" font-weight="bold" font-style="italic" fill="#ff0000" stroke="#fff" stroke-width="0.1" paint-order="fill stroke">γ</text>
<text transform="translate(215.07,98.20) scale(0.883,1)" font-family='"Liberation Sans",sans-serif' font-size="11.5" font-weight="bold" font-style="italic" fill="#00ff00" stroke="#fff" stroke-width="0.1" paint-order="fill stroke">π</text>
<text transform="translate(222.57,98.20) scale(1.079,1)" font-family='"Liberation Sans",sans-serif' font-size="10.5" font-weight="normal" font-style="normal" fill="#00ff00" >K</text>
<circle cx="232.0" cy="91.8" r="1.2" fill="#00ff00"/>
<path d="M234.60,95.50H240.30" stroke="#00ff00" stroke-width="1.2" fill="none"/><path d="M242.30,95.50L238.70,93.20L239.70,95.50L238.70,97.80Z" fill="#00ff00"/>
<text transform="translate(242.41,98.20) scale(1.029,1)" font-family='"Liberation Sans",sans-serif' font-size="10.5" font-weight="normal" font-style="normal" fill="#00ff00" >K</text>
<text transform="translate(250.37,98.20) scale(1.047,1)" font-family='"Liberation Sans",sans-serif' font-size="11.5" font-weight="bold" font-style="italic" fill="#00ff00" stroke="#fff" stroke-width="0.1" paint-order="fill stroke">γ</text>
<text transform="translate(214.46,112.30) scale(1.096,1)" font-family='"Liberation Sans",sans-serif' font-size="10.5" font-weight="normal" font-style="normal" fill="#ff8000" >K</text>
<text transform="translate(222.68,112.30) scale(0.983,1)" font-family='"Liberation Sans",sans-serif' font-size="11.5" font-weight="normal" font-style="italic" fill="#ff8000" stroke="#fff" stroke-width="0.1" paint-order="fill stroke">ρ</text>
<path d="M230.00,109.70H235.70" stroke="#ff8000" stroke-width="1.2" fill="none"/><path d="M237.70,109.70L234.10,107.40L235.10,109.70L234.10,112.00Z" fill="#ff8000"/>
<text transform="translate(237.87,112.30) scale(1.079,1)" font-family='"Liberation Sans",sans-serif' font-size="10.5" font-weight="normal" font-style="normal" fill="#ff8000" >K</text>
<text transform="translate(245.67,112.30) scale(1.164,1)" font-family='"Liberation Sans",sans-serif' font-size="11.5" font-weight="normal" font-style="italic" fill="#ff8000" stroke="#fff" stroke-width="0.1" paint-order="fill stroke">γ</text>

<path d="M52.90,32.83L56.22,30.25V41.95" stroke="#111" stroke-width="1.15" fill="none" stroke-linejoin="miter"/>
<text transform="translate(57.65,41.95) scale(1.132,1)" font-family='"Liberation Sans",sans-serif' font-size="17" font-weight="normal" font-style="normal" fill="#111" stroke="#fff" stroke-width="0.25" paint-order="fill stroke">0</text>
<path d="M69.20,28.20h6.1" stroke="#111" stroke-width="0.9" fill="none"/>
<text transform="translate(76.27,31.80) scale(1.118,1)" font-family='"Liberation Sans",sans-serif' font-size="10" font-weight="normal" font-style="normal" fill="#111" stroke="#fff" stroke-width="0.1" paint-order="fill stroke">3</text>
<path d="M52.90,70.47L56.22,67.89V79.59" stroke="#111" stroke-width="1.15" fill="none" stroke-linejoin="miter"/>
<text transform="translate(57.65,79.59) scale(1.132,1)" font-family='"Liberation Sans",sans-serif' font-size="17" font-weight="normal" font-style="normal" fill="#111" stroke="#fff" stroke-width="0.25" paint-order="fill stroke">0</text>
<path d="M69.20,65.84h6.1" stroke="#111" stroke-width="0.9" fill="none"/>
<text transform="translate(76.46,69.44) scale(1.052,1)" font-family='"Liberation Sans",sans-serif' font-size="10" font-weight="normal" font-style="normal" fill="#111" stroke="#fff" stroke-width="0.1" paint-order="fill stroke">4</text>
<path d="M52.90,108.12L56.22,105.54V117.24" stroke="#111" stroke-width="1.15" fill="none" stroke-linejoin="miter"/>
<text transform="translate(57.65,117.24) scale(1.132,1)" font-family='"Liberation Sans",sans-serif' font-size="17" font-weight="normal" font-style="normal" fill="#111" stroke="#fff" stroke-width="0.25" paint-order="fill stroke">0</text>
<path d="M69.20,103.49h6.1" stroke="#111" stroke-width="0.9" fill="none"/>
<text transform="translate(76.25,107.09) scale(1.118,1)" font-family='"Liberation Sans",sans-serif' font-size="10" font-weight="normal" font-style="normal" fill="#111" stroke="#fff" stroke-width="0.1" paint-order="fill stroke">5</text>
<path d="M52.90,145.76L56.22,143.18V154.88" stroke="#111" stroke-width="1.15" fill="none" stroke-linejoin="miter"/>
<text transform="translate(57.65,154.88) scale(1.132,1)" font-family='"Liberation Sans",sans-serif' font-size="17" font-weight="normal" font-style="normal" fill="#111" stroke="#fff" stroke-width="0.25" paint-order="fill stroke">0</text>
<path d="M69.20,141.13h6.1" stroke="#111" stroke-width="0.9" fill="none"/>
<text transform="translate(76.12,144.73) scale(1.149,1)" font-family='"Liberation Sans",sans-serif' font-size="10" font-weight="normal" font-style="normal" fill="#111" stroke="#fff" stroke-width="0.1" paint-order="fill stroke">6</text>
<path d="M52.90,183.40L56.22,180.82V192.52" stroke="#111" stroke-width="1.15" fill="none" stroke-linejoin="miter"/>
<text transform="translate(57.65,192.52) scale(1.132,1)" font-family='"Liberation Sans",sans-serif' font-size="17" font-weight="normal" font-style="normal" fill="#111" stroke="#fff" stroke-width="0.25" paint-order="fill stroke">0</text>
<path d="M69.20,178.77h6.1" stroke="#111" stroke-width="0.9" fill="none"/>
<text transform="translate(76.10,182.37) scale(1.166,1)" font-family='"Liberation Sans",sans-serif' font-size="10" font-weight="normal" font-style="normal" fill="#111" stroke="#fff" stroke-width="0.1" paint-order="fill stroke">7</text>
<path d="M52.90,221.04L56.22,218.46V230.16" stroke="#111" stroke-width="1.15" fill="none" stroke-linejoin="miter"/>
<text transform="translate(57.65,230.16) scale(1.132,1)" font-family='"Liberation Sans",sans-serif' font-size="17" font-weight="normal" font-style="normal" fill="#111" stroke="#fff" stroke-width="0.25" paint-order="fill stroke">0</text>
<path d="M69.20,216.41h6.1" stroke="#111" stroke-width="0.9" fill="none"/>
<text transform="translate(76.21,220.01) scale(1.129,1)" font-family='"Liberation Sans",sans-serif' font-size="10" font-weight="normal" font-style="normal" fill="#111" stroke="#fff" stroke-width="0.1" paint-order="fill stroke">8</text>
<path d="M52.90,258.69L56.22,256.11V267.81" stroke="#111" stroke-width="1.15" fill="none" stroke-linejoin="miter"/>
<text transform="translate(57.65,267.81) scale(1.132,1)" font-family='"Liberation Sans",sans-serif' font-size="17" font-weight="normal" font-style="normal" fill="#111" stroke="#fff" stroke-width="0.25" paint-order="fill stroke">0</text>
<path d="M69.20,254.06h6.1" stroke="#111" stroke-width="0.9" fill="none"/>
<text transform="translate(76.16,257.66) scale(1.147,1)" font-family='"Liberation Sans",sans-serif' font-size="10" font-weight="normal" font-style="normal" fill="#111" stroke="#fff" stroke-width="0.1" paint-order="fill stroke">9</text>
<path d="M49.40,296.33L52.72,293.75V305.45" stroke="#111" stroke-width="1.15" fill="none" stroke-linejoin="miter"/>
<text transform="translate(54.15,305.45) scale(1.132,1)" font-family='"Liberation Sans",sans-serif' font-size="17" font-weight="normal" font-style="normal" fill="#111" stroke="#fff" stroke-width="0.25" paint-order="fill stroke">0</text>
<path d="M65.70,291.70h6.1" stroke="#111" stroke-width="0.9" fill="none"/>
<path d="M72.90,290.06L74.75,288.70V295.30" stroke="#111" stroke-width="0.9" fill="none" stroke-linejoin="miter"/>
<text transform="translate(76.52,295.30) scale(0.983,1)" font-family='"Liberation Sans",sans-serif' font-size="10" font-weight="normal" font-style="normal" fill="#111" stroke="#fff" stroke-width="0.1" paint-order="fill stroke">0</text>
<text transform="translate(87.82,322.20) scale(1.169,1)" font-family='"Liberation Sans",sans-serif' font-size="17" font-weight="normal" font-style="normal" fill="#111" stroke="#fff" stroke-width="0.25" paint-order="fill stroke">0</text>
<path d="M152.60,313.08L156.03,310.50V322.20" stroke="#111" stroke-width="1.15" fill="none" stroke-linejoin="miter"/>
<text transform="translate(208.97,322.20) scale(1.201,1)" font-family='"Liberation Sans",sans-serif' font-size="17" font-weight="normal" font-style="normal" fill="#111" stroke="#fff" stroke-width="0.25" paint-order="fill stroke">2</text>
<text transform="translate(270.21,322.20) scale(1.067,1)" font-family='"Liberation Sans",sans-serif' font-size="17" font-weight="normal" font-style="normal" fill="#111" stroke="#fff" stroke-width="0.25" paint-order="fill stroke">3</text>
<text transform="translate(110.99,285.50) scale(0.853,1)" font-family='"Liberation Sans",sans-serif' font-size="11.2" font-weight="normal" font-style="normal" fill="#111" >T</text>
<path d="M124.6,280.3h7.5 M124.6,283.4h7.5" stroke="#111" stroke-width="0.9" fill="none"/>
<text transform="translate(139.14,285.50) scale(1.176,1)" font-family='"Liberation Sans",sans-serif' font-size="11.2" font-weight="normal" font-style="normal" fill="#111" >2</text>
<text transform="translate(146.91,285.50) scale(1.121,1)" font-family='"Liberation Sans",sans-serif' font-size="11.2" font-weight="normal" font-style="normal" fill="#111" >0</text>
<text transform="translate(153.83,285.50) scale(1.065,1)" font-family='"Liberation Sans",sans-serif' font-size="11.2" font-weight="normal" font-style="normal" fill="#111" >0</text>
<text transform="translate(167.37,285.10) scale(0.849,1)" font-family='"Liberation Sans",sans-serif' font-size="12.0" font-weight="normal" font-style="normal" fill="#111" >(</text>
<text transform="translate(171.85,285.50) scale(0.814,1)" font-family='"Liberation Sans",sans-serif' font-size="11.2" font-weight="normal" font-style="normal" fill="#111" >M</text>
<text transform="translate(179.34,285.50) scale(0.970,1)" font-family='"Liberation Sans",sans-serif' font-size="11.2" font-weight="normal" font-style="normal" fill="#111" >e</text>
<text transform="translate(185.46,285.50) scale(0.882,1)" font-family='"Liberation Sans",sans-serif' font-size="11.2" font-weight="normal" font-style="normal" fill="#111" >V</text>
<text transform="translate(193.54,285.10) scale(0.849,1)" font-family='"Liberation Sans",sans-serif' font-size="12.0" font-weight="normal" font-style="normal" fill="#111" >)</text>
<text transform="translate(150.38,358.80) scale(0.822,1)" font-family='"Liberation Sans",sans-serif' font-size="16.6" font-weight="normal" font-style="normal" fill="#111" stroke="#fff" stroke-width="0.25" paint-order="fill stroke">E</text>
<text transform="translate(160.31,364.60) scale(1.196,1)" font-family='"Liberation Sans",sans-serif' font-size="9.3" font-weight="bold" font-style="italic" fill="#111" >γ</text>
<text transform="translate(176.06,358.80) scale(0.818,1)" font-family='"Liberation Sans",sans-serif' font-size="16.6" font-weight="normal" font-style="normal" fill="#111" stroke="#fff" stroke-width="0.25" paint-order="fill stroke">(</text>
<text transform="translate(182.26,358.80) scale(0.886,1)" font-family='"Liberation Sans",sans-serif' font-size="16.6" font-weight="normal" font-style="normal" fill="#111" stroke="#fff" stroke-width="0.25" paint-order="fill stroke">G</text>
<text transform="translate(193.95,358.80) scale(0.924,1)" font-family='"Liberation Sans",sans-serif' font-size="16.6" font-weight="normal" font-style="normal" fill="#111" stroke="#fff" stroke-width="0.25" paint-order="fill stroke">e</text>
<text transform="translate(202.54,358.80) scale(0.869,1)" font-family='"Liberation Sans",sans-serif' font-size="16.6" font-weight="normal" font-style="normal" fill="#111" stroke="#fff" stroke-width="0.25" paint-order="fill stroke">V</text>
<text transform="translate(213.52,358.80) scale(0.863,1)" font-family='"Liberation Sans",sans-serif' font-size="16.6" font-weight="normal" font-style="normal" fill="#111" stroke="#fff" stroke-width="0.25" paint-order="fill stroke">)</text>

<g transform="translate(41.9,247) rotate(-90)">
<text transform="translate(0.85,0.00) scale(0.848,1)" font-family='"Liberation Sans",sans-serif' font-size="13.7" font-weight="normal" font-style="normal" fill="#111" >E</text>
<text transform="translate(8.62,6.00) scale(1.073,1)" font-family='"Liberation Sans",sans-serif' font-size="8.5" font-weight="bold" font-style="italic" fill="#111" >γ</text>
<text transform="translate(16.82,0.00) scale(1.006,1)" font-family='"Liberation Sans",sans-serif' font-size="13.7" font-weight="normal" font-style="normal" fill="#111" >d</text>
<text transform="translate(23.95,0.00) scale(0.848,1)" font-family='"Liberation Sans",sans-serif' font-size="13.7" font-weight="normal" font-style="normal" fill="#111" >R</text>
<path d="M33.4,2.4 L41.2,-11.4" stroke="#111" stroke-width="0.9" fill="none"/>
<text transform="translate(42.52,0.00) scale(1.006,1)" font-family='"Liberation Sans",sans-serif' font-size="13.7" font-weight="normal" font-style="normal" fill="#111" >d</text>
<text transform="translate(49.22,-5.60) scale(1.126,1)" font-family='"Liberation Sans",sans-serif' font-size="8.8" font-weight="normal" font-style="normal" fill="#111" stroke="#fff" stroke-width="0.05" paint-order="fill stroke">3</text>
<text transform="translate(54.43,0.00) scale(1.104,1)" font-family='"Liberation Sans",sans-serif' font-size="13.7" font-weight="normal" font-style="normal" fill="#111" >p</text>
<text transform="translate(61.82,6.00) scale(1.073,1)" font-family='"Liberation Sans",sans-serif' font-size="8.5" font-weight="bold" font-style="italic" fill="#111" >γ</text>
<text transform="translate(75.11,0.00) scale(0.955,1)" font-family='"Liberation Sans",sans-serif' font-size="15" font-weight="normal" font-style="normal" fill="#111" >(</text>
<text transform="translate(80.44,0.00) scale(0.816,1)" font-family='"Liberation Sans",sans-serif' font-size="13.7" font-weight="normal" font-style="normal" fill="#111" >G</text>
<text transform="translate(88.87,0.00) scale(0.918,1)" font-family='"Liberation Sans",sans-serif' font-size="13.7" font-weight="normal" font-style="normal" fill="#111" >e</text>
<text transform="translate(95.75,0.00) scale(0.876,1)" font-family='"Liberation Sans",sans-serif' font-size="13.7" font-weight="normal" font-style="normal" fill="#111" >V</text>
<path d="M105.9,-8.4h3.9" stroke="#111" stroke-width="1.05" fill="none"/>
<text transform="translate(109.85,-5.60) scale(1.247,1)" font-family='"Liberation Sans",sans-serif' font-size="8.8" font-weight="normal" font-style="normal" fill="#111" stroke="#fff" stroke-width="0.05" paint-order="fill stroke">2</text>
<text transform="translate(118.68,0.00) scale(1.156,1)" font-family='"Liberation Sans",sans-serif' font-size="13.7" font-weight="normal" font-style="normal" fill="#111" >f</text>
<text transform="translate(123.58,0.00) scale(1.125,1)" font-family='"Liberation Sans",sans-serif' font-size="13.7" font-weight="normal" font-style="normal" fill="#111" >m</text>
<path d="M136.8,-8.4h5" stroke="#111" stroke-width="1.05" fill="none"/>
<text transform="translate(142.79,-5.60) scale(1.037,1)" font-family='"Liberation Sans",sans-serif' font-size="8.8" font-weight="normal" font-style="normal" fill="#111" stroke="#fff" stroke-width="0.05" paint-order="fill stroke">4</text>
<text transform="translate(150.31,0.00) scale(1.056,1)" font-family='"Liberation Sans",sans-serif' font-size="15" font-weight="normal" font-style="normal" fill="#111" >)</text>
</g>
</svg>
</body></html>
